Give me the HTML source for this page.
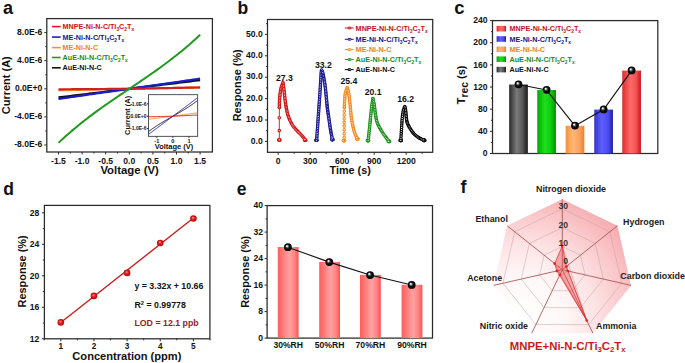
<!DOCTYPE html>
<html><head><meta charset="utf-8"><style>
html,body{margin:0;padding:0;background:#fff;}
svg{display:block;font-family:"Liberation Sans", sans-serif;}
</style></head><body>
<svg width="685" height="363" viewBox="0 0 685 363">
<rect width="685" height="363" fill="#fff"/>
<text x="3.00" y="13.60" font-size="18" text-anchor="start" fill="#111" font-weight="bold" >a</text>
<rect x="46.80" y="18.60" width="165.60" height="133.40" fill="none" stroke="#2a2a2a" stroke-width="1.25"/>
<line x1="44.30" y1="32.60" x2="46.80" y2="32.60" stroke="#2a2a2a" stroke-width="1" />
<line x1="44.30" y1="60.70" x2="46.80" y2="60.70" stroke="#2a2a2a" stroke-width="1" />
<line x1="44.30" y1="88.80" x2="46.80" y2="88.80" stroke="#2a2a2a" stroke-width="1" />
<line x1="44.30" y1="116.90" x2="46.80" y2="116.90" stroke="#2a2a2a" stroke-width="1" />
<line x1="44.30" y1="145.00" x2="46.80" y2="145.00" stroke="#2a2a2a" stroke-width="1" />
<line x1="45.30" y1="46.65" x2="46.80" y2="46.65" stroke="#2a2a2a" stroke-width="1" />
<line x1="45.30" y1="74.75" x2="46.80" y2="74.75" stroke="#2a2a2a" stroke-width="1" />
<line x1="45.30" y1="102.85" x2="46.80" y2="102.85" stroke="#2a2a2a" stroke-width="1" />
<line x1="45.30" y1="130.95" x2="46.80" y2="130.95" stroke="#2a2a2a" stroke-width="1" />
<line x1="58.50" y1="152.00" x2="58.50" y2="154.50" stroke="#2a2a2a" stroke-width="1" />
<line x1="82.10" y1="152.00" x2="82.10" y2="154.50" stroke="#2a2a2a" stroke-width="1" />
<line x1="105.70" y1="152.00" x2="105.70" y2="154.50" stroke="#2a2a2a" stroke-width="1" />
<line x1="129.30" y1="152.00" x2="129.30" y2="154.50" stroke="#2a2a2a" stroke-width="1" />
<line x1="152.90" y1="152.00" x2="152.90" y2="154.50" stroke="#2a2a2a" stroke-width="1" />
<line x1="176.50" y1="152.00" x2="176.50" y2="154.50" stroke="#2a2a2a" stroke-width="1" />
<line x1="200.10" y1="152.00" x2="200.10" y2="154.50" stroke="#2a2a2a" stroke-width="1" />
<line x1="70.30" y1="152.00" x2="70.30" y2="153.50" stroke="#2a2a2a" stroke-width="1" />
<line x1="93.90" y1="152.00" x2="93.90" y2="153.50" stroke="#2a2a2a" stroke-width="1" />
<line x1="117.50" y1="152.00" x2="117.50" y2="153.50" stroke="#2a2a2a" stroke-width="1" />
<line x1="141.10" y1="152.00" x2="141.10" y2="153.50" stroke="#2a2a2a" stroke-width="1" />
<line x1="164.70" y1="152.00" x2="164.70" y2="153.50" stroke="#2a2a2a" stroke-width="1" />
<line x1="188.30" y1="152.00" x2="188.30" y2="153.50" stroke="#2a2a2a" stroke-width="1" />
<text x="42.40" y="34.80" font-size="8.6" text-anchor="end" fill="#111" font-weight="bold" >8.0E-6</text>
<text x="42.40" y="62.90" font-size="8.6" text-anchor="end" fill="#111" font-weight="bold" >4.0E-6</text>
<text x="42.40" y="91.00" font-size="8.6" text-anchor="end" fill="#111" font-weight="bold" >0.0E+0</text>
<text x="42.40" y="119.10" font-size="8.6" text-anchor="end" fill="#111" font-weight="bold" >-4.0E-6</text>
<text x="42.40" y="147.20" font-size="8.6" text-anchor="end" fill="#111" font-weight="bold" >-8.0E-6</text>
<text x="58.50" y="163.50" font-size="8.6" text-anchor="middle" fill="#111" font-weight="bold" >-1.5</text>
<text x="82.10" y="163.50" font-size="8.6" text-anchor="middle" fill="#111" font-weight="bold" >-1.0</text>
<text x="105.70" y="163.50" font-size="8.6" text-anchor="middle" fill="#111" font-weight="bold" >-0.5</text>
<text x="129.30" y="163.50" font-size="8.6" text-anchor="middle" fill="#111" font-weight="bold" >0.0</text>
<text x="152.90" y="163.50" font-size="8.6" text-anchor="middle" fill="#111" font-weight="bold" >0.5</text>
<text x="176.50" y="163.50" font-size="8.6" text-anchor="middle" fill="#111" font-weight="bold" >1.0</text>
<text x="200.10" y="163.50" font-size="8.6" text-anchor="middle" fill="#111" font-weight="bold" >1.5</text>
<text x="129.60" y="174.20" font-size="11.35" text-anchor="middle" fill="#111" font-weight="bold" >Voltage (V)</text>
<text transform="translate(9.70,85.25) rotate(-90)" x="0" y="0" font-size="11" text-anchor="middle" fill="#111" font-weight="bold">Current (A)</text>
<clipPath id="clipA"><rect x="46.8" y="18.6" width="165.60000000000002" height="133.4"/></clipPath>
<path d="M58.50,90.28 L60.86,90.23 L63.22,90.18 L65.58,90.13 L67.94,90.08 L70.30,90.03 L72.66,89.98 L75.02,89.93 L77.38,89.88 L79.74,89.83 L82.10,89.78 L84.46,89.73 L86.82,89.69 L89.18,89.64 L91.54,89.59 L93.90,89.54 L96.26,89.49 L98.62,89.44 L100.98,89.39 L103.34,89.34 L105.70,89.29 L108.06,89.24 L110.42,89.19 L112.78,89.14 L115.14,89.10 L117.50,89.05 L119.86,89.00 L122.22,88.95 L124.58,88.90 L126.94,88.85 L129.30,88.80 L131.66,88.76 L134.02,88.72 L136.38,88.67 L138.74,88.63 L141.10,88.59 L143.46,88.55 L145.82,88.50 L148.18,88.46 L150.54,88.42 L152.90,88.38 L155.26,88.34 L157.62,88.29 L159.98,88.25 L162.34,88.21 L164.70,88.17 L167.06,88.13 L169.42,88.08 L171.78,88.04 L174.14,88.00 L176.50,87.96 L178.86,87.91 L181.22,87.87 L183.58,87.83 L185.94,87.79 L188.30,87.75 L190.66,87.70 L193.02,87.66 L195.38,87.62 L197.74,87.58 L200.10,87.54" stroke="#f7912e" fill="none" stroke-width="2.2" stroke-linejoin="round" />
<path d="M58.50,97.44 L60.86,97.15 L63.22,96.86 L65.58,96.58 L67.94,96.29 L70.30,96.00 L72.66,95.71 L75.02,95.42 L77.38,95.14 L79.74,94.85 L82.10,94.56 L84.46,94.27 L86.82,93.98 L89.18,93.70 L91.54,93.41 L93.90,93.12 L96.26,92.83 L98.62,92.54 L100.98,92.26 L103.34,91.97 L105.70,91.68 L108.06,91.39 L110.42,91.10 L112.78,90.82 L115.14,90.53 L117.50,90.24 L119.86,89.95 L122.22,89.66 L124.58,89.38 L126.94,89.09 L129.30,88.80 L131.66,88.51 L134.02,88.22 L136.38,87.94 L138.74,87.65 L141.10,87.36 L143.46,87.07 L145.82,86.78 L148.18,86.50 L150.54,86.21 L152.90,85.92 L155.26,85.63 L157.62,85.34 L159.98,85.06 L162.34,84.77 L164.70,84.48 L167.06,84.19 L169.42,83.90 L171.78,83.62 L174.14,83.33 L176.50,83.04 L178.86,82.75 L181.22,82.46 L183.58,82.18 L185.94,81.89 L188.30,81.60 L190.66,81.31 L193.02,81.02 L195.38,80.74 L197.74,80.45 L200.10,80.16" stroke="#111" fill="none" stroke-width="2.2" stroke-linejoin="round" />
<path d="M58.50,98.92 L60.86,98.58 L63.22,98.24 L65.58,97.90 L67.94,97.57 L70.30,97.23 L72.66,96.89 L75.02,96.56 L77.38,96.22 L79.74,95.88 L82.10,95.54 L84.46,95.21 L86.82,94.87 L89.18,94.53 L91.54,94.20 L93.90,93.86 L96.26,93.52 L98.62,93.18 L100.98,92.85 L103.34,92.51 L105.70,92.17 L108.06,91.83 L110.42,91.50 L112.78,91.16 L115.14,90.82 L117.50,90.49 L119.86,90.15 L122.22,89.81 L124.58,89.47 L126.94,89.14 L129.30,88.80 L131.66,88.46 L134.02,88.13 L136.38,87.79 L138.74,87.45 L141.10,87.11 L143.46,86.78 L145.82,86.44 L148.18,86.10 L150.54,85.77 L152.90,85.43 L155.26,85.09 L157.62,84.75 L159.98,84.42 L162.34,84.08 L164.70,83.74 L167.06,83.40 L169.42,83.07 L171.78,82.73 L174.14,82.39 L176.50,82.06 L178.86,81.72 L181.22,81.38 L183.58,81.04 L185.94,80.71 L188.30,80.37 L190.66,80.03 L193.02,79.70 L195.38,79.36 L197.74,79.02 L200.10,78.68" stroke="#1c1cc8" fill="none" stroke-width="2.2" stroke-linejoin="round" />
<path d="M58.50,89.33 L60.86,89.31 L63.22,89.29 L65.58,89.27 L67.94,89.26 L70.30,89.24 L72.66,89.22 L75.02,89.20 L77.38,89.19 L79.74,89.17 L82.10,89.15 L84.46,89.13 L86.82,89.12 L89.18,89.10 L91.54,89.08 L93.90,89.06 L96.26,89.05 L98.62,89.03 L100.98,89.01 L103.34,88.99 L105.70,88.98 L108.06,88.96 L110.42,88.94 L112.78,88.92 L115.14,88.91 L117.50,88.89 L119.86,88.87 L122.22,88.85 L124.58,88.84 L126.94,88.82 L129.30,88.80 L131.66,88.75 L134.02,88.71 L136.38,88.66 L138.74,88.62 L141.10,88.57 L143.46,88.53 L145.82,88.48 L148.18,88.43 L150.54,88.39 L152.90,88.34 L155.26,88.30 L157.62,88.25 L159.98,88.21 L162.34,88.16 L164.70,88.12 L167.06,88.07 L169.42,88.02 L171.78,87.98 L174.14,87.93 L176.50,87.89 L178.86,87.84 L181.22,87.80 L183.58,87.75 L185.94,87.70 L188.30,87.66 L190.66,87.61 L193.02,87.57 L195.38,87.52 L197.74,87.48 L200.10,87.43" stroke="#d21f1f" fill="none" stroke-width="2.2" stroke-linejoin="round" />
<path d="M58.50,142.86 L60.86,140.63 L63.22,138.45 L65.58,136.32 L67.94,134.22 L70.30,132.16 L72.66,130.13 L75.02,128.15 L77.38,126.19 L79.74,124.27 L82.10,122.38 L84.46,120.52 L86.82,118.69 L89.18,116.88 L91.54,115.10 L93.90,113.34 L96.26,111.60 L98.62,109.89 L100.98,108.19 L103.34,106.51 L105.70,104.85 L108.06,103.20 L110.42,101.57 L112.78,99.95 L115.14,98.34 L117.50,96.73 L119.86,95.14 L122.22,93.55 L124.58,91.96 L126.94,90.38 L129.30,88.80 L131.66,87.22 L134.02,85.64 L136.38,84.05 L138.74,82.46 L141.10,80.87 L143.46,79.26 L145.82,77.65 L148.18,76.03 L150.54,74.40 L152.90,72.75 L155.26,71.09 L157.62,69.41 L159.98,67.71 L162.34,66.00 L164.70,64.26 L167.06,62.50 L169.42,60.72 L171.78,58.91 L174.14,57.08 L176.50,55.22 L178.86,53.33 L181.22,51.41 L183.58,49.45 L185.94,47.47 L188.30,45.44 L190.66,43.38 L193.02,41.28 L195.38,39.15 L197.74,36.97 L200.10,34.74" stroke="#1f9a1f" fill="none" stroke-width="2" stroke-linejoin="round" />
<line x1="52.00" y1="26.60" x2="60.70" y2="26.60" stroke="#d21f1f" stroke-width="1.6" />
<text x="62.60" y="29.20" font-size="7.2" text-anchor="start" fill="#c8101a" font-weight="bold" >MNPE-Ni-N-C/Ti<tspan dy="2.02" font-size="4.90">3</tspan><tspan dy="-2.02">C</tspan><tspan dy="2.02" font-size="4.90">2</tspan><tspan dy="-2.02">T</tspan><tspan dy="2.02" font-size="4.90">x</tspan></text>
<line x1="52.00" y1="37.10" x2="60.70" y2="37.10" stroke="#1c1cc8" stroke-width="1.6" />
<text x="62.60" y="39.70" font-size="7.2" text-anchor="start" fill="#14148c" font-weight="bold" >ME-Ni-N-C/Ti<tspan dy="2.02" font-size="4.90">3</tspan><tspan dy="-2.02">C</tspan><tspan dy="2.02" font-size="4.90">2</tspan><tspan dy="-2.02">T</tspan><tspan dy="2.02" font-size="4.90">x</tspan></text>
<line x1="52.00" y1="47.60" x2="60.70" y2="47.60" stroke="#f7912e" stroke-width="1.6" />
<text x="62.60" y="50.20" font-size="7.2" text-anchor="start" fill="#f0821e" font-weight="bold" >ME-Ni-N-C</text>
<line x1="52.00" y1="57.50" x2="60.70" y2="57.50" stroke="#1f9a1f" stroke-width="1.6" />
<text x="62.60" y="60.10" font-size="7.2" text-anchor="start" fill="#1a8a26" font-weight="bold" >AuE-Ni-N-C/Ti<tspan dy="2.02" font-size="4.90">3</tspan><tspan dy="-2.02">C</tspan><tspan dy="2.02" font-size="4.90">2</tspan><tspan dy="-2.02">T</tspan><tspan dy="2.02" font-size="4.90">x</tspan></text>
<line x1="52.00" y1="67.80" x2="60.70" y2="67.80" stroke="#111" stroke-width="1.6" />
<text x="62.60" y="70.40" font-size="7.2" text-anchor="start" fill="#111" font-weight="bold" >AuE-Ni-N-C</text>
<rect x="148.5" y="94.7" width="49.20" height="41.60" fill="#fff" stroke="#2a2a2a" stroke-width="0.8"/>
<line x1="147.00" y1="103.80" x2="148.50" y2="103.80" stroke="#2a2a2a" stroke-width="1" />
<line x1="147.00" y1="116.20" x2="148.50" y2="116.20" stroke="#2a2a2a" stroke-width="1" />
<line x1="147.00" y1="128.60" x2="148.50" y2="128.60" stroke="#2a2a2a" stroke-width="1" />
<line x1="156.80" y1="136.30" x2="156.80" y2="137.80" stroke="#2a2a2a" stroke-width="1" />
<line x1="172.90" y1="136.30" x2="172.90" y2="137.80" stroke="#2a2a2a" stroke-width="1" />
<line x1="189.00" y1="136.30" x2="189.00" y2="137.80" stroke="#2a2a2a" stroke-width="1" />
<text x="146.50" y="105.60" font-size="5" text-anchor="end" fill="#111" font-weight="bold" >1.0E-6</text>
<text x="146.50" y="118.00" font-size="5" text-anchor="end" fill="#111" font-weight="bold" >0.0E+0</text>
<text x="146.50" y="130.40" font-size="5" text-anchor="end" fill="#111" font-weight="bold" >-1.0E-6</text>
<text x="156.80" y="142.50" font-size="5.6" text-anchor="middle" fill="#111" font-weight="bold" >-1</text>
<text x="172.90" y="142.50" font-size="5.6" text-anchor="middle" fill="#111" font-weight="bold" >0</text>
<text x="189.00" y="142.50" font-size="5.6" text-anchor="middle" fill="#111" font-weight="bold" >1</text>
<text x="174.00" y="149.00" font-size="7.5" text-anchor="middle" fill="#111" font-weight="bold" >Voltage (V)</text>
<text transform="translate(130.30,115.40) rotate(-90)" x="0" y="0" font-size="7.4" text-anchor="middle" fill="#111" font-weight="bold">Current (A)</text>
<clipPath id="clipI"><rect x="148.5" y="94.7" width="49.19999999999999" height="41.60000000000001"/></clipPath>
<path d="M148.27,119.24 L149.09,119.13 L149.91,119.03 L150.73,118.93 L151.55,118.83 L152.37,118.73 L153.19,118.63 L154.01,118.53 L154.84,118.43 L155.66,118.32 L156.48,118.22 L157.30,118.12 L158.12,118.02 L158.94,117.92 L159.76,117.82 L160.58,117.72 L161.40,117.62 L162.23,117.52 L163.05,117.41 L163.87,117.31 L164.69,117.21 L165.51,117.11 L166.33,117.01 L167.15,116.91 L167.97,116.81 L168.79,116.71 L169.62,116.60 L170.44,116.50 L171.26,116.40 L172.08,116.30 L172.90,116.20 L173.72,116.09 L174.54,115.97 L175.36,115.86 L176.18,115.74 L177.01,115.63 L177.83,115.52 L178.65,115.40 L179.47,115.29 L180.29,115.18 L181.11,115.06 L181.93,114.95 L182.75,114.83 L183.57,114.72 L184.40,114.61 L185.22,114.49 L186.04,114.38 L186.86,114.26 L187.68,114.15 L188.50,114.04 L189.32,113.92 L190.14,113.81 L190.96,113.70 L191.79,113.58 L192.61,113.47 L193.43,113.35 L194.25,113.24 L195.07,113.13 L195.89,113.01 L196.71,112.90 L197.53,112.79" stroke="#f7912e" fill="none" stroke-width="1" stroke-linejoin="round" clip-path="url(#clipI)"/>
<path d="M148.27,131.82 L149.09,131.20 L149.91,130.58 L150.73,129.98 L151.55,129.38 L152.37,128.80 L153.19,128.23 L154.01,127.66 L154.84,127.10 L155.66,126.55 L156.48,126.01 L157.30,125.47 L158.12,124.94 L158.94,124.42 L159.76,123.91 L160.58,123.40 L161.40,122.89 L162.23,122.39 L163.05,121.90 L163.87,121.41 L164.69,120.92 L165.51,120.44 L166.33,119.96 L167.15,119.48 L167.97,119.01 L168.79,118.54 L169.62,118.07 L170.44,117.60 L171.26,117.13 L172.08,116.67 L172.90,116.20 L173.72,115.73 L174.54,115.27 L175.36,114.80 L176.18,114.33 L177.01,113.86 L177.83,113.39 L178.65,112.92 L179.47,112.44 L180.29,111.96 L181.11,111.48 L181.93,110.99 L182.75,110.50 L183.57,110.01 L184.40,109.51 L185.22,109.00 L186.04,108.49 L186.86,107.98 L187.68,107.46 L188.50,106.93 L189.32,106.39 L190.14,105.85 L190.96,105.30 L191.79,104.74 L192.61,104.17 L193.43,103.60 L194.25,103.02 L195.07,102.42 L195.89,101.82 L196.71,101.20 L197.53,100.58" stroke="#111" fill="none" stroke-width="0.9" stroke-linejoin="round" clip-path="url(#clipI)"/>
<path d="M148.27,134.60 L149.09,133.99 L149.91,133.38 L150.73,132.76 L151.55,132.15 L152.37,131.54 L153.19,130.92 L154.01,130.31 L154.84,129.70 L155.66,129.08 L156.48,128.47 L157.30,127.86 L158.12,127.24 L158.94,126.63 L159.76,126.01 L160.58,125.40 L161.40,124.79 L162.23,124.17 L163.05,123.56 L163.87,122.95 L164.69,122.33 L165.51,121.72 L166.33,121.11 L167.15,120.49 L167.97,119.88 L168.79,119.27 L169.62,118.65 L170.44,118.04 L171.26,117.43 L172.08,116.81 L172.90,116.20 L173.72,115.59 L174.54,114.97 L175.36,114.36 L176.18,113.75 L177.01,113.13 L177.83,112.52 L178.65,111.91 L179.47,111.29 L180.29,110.68 L181.11,110.07 L181.93,109.45 L182.75,108.84 L183.57,108.23 L184.40,107.61 L185.22,107.00 L186.04,106.39 L186.86,105.77 L187.68,105.16 L188.50,104.54 L189.32,103.93 L190.14,103.32 L190.96,102.70 L191.79,102.09 L192.61,101.48 L193.43,100.86 L194.25,100.25 L195.07,99.64 L195.89,99.02 L196.71,98.41 L197.53,97.80" stroke="#1c1cc8" fill="none" stroke-width="0.9" stroke-linejoin="round" clip-path="url(#clipI)"/>
<path d="M148.27,116.77 L149.09,116.75 L149.91,116.73 L150.73,116.71 L151.55,116.69 L152.37,116.67 L153.19,116.66 L154.01,116.64 L154.84,116.62 L155.66,116.60 L156.48,116.58 L157.30,116.56 L158.12,116.54 L158.94,116.52 L159.76,116.50 L160.58,116.48 L161.40,116.47 L162.23,116.45 L163.05,116.43 L163.87,116.41 L164.69,116.39 L165.51,116.37 L166.33,116.35 L167.15,116.33 L167.97,116.31 L168.79,116.29 L169.62,116.28 L170.44,116.26 L171.26,116.24 L172.08,116.22 L172.90,116.20 L173.72,116.16 L174.54,116.12 L175.36,116.09 L176.18,116.05 L177.01,116.01 L177.83,115.97 L178.65,115.93 L179.47,115.90 L180.29,115.86 L181.11,115.82 L181.93,115.78 L182.75,115.74 L183.57,115.71 L184.40,115.67 L185.22,115.63 L186.04,115.59 L186.86,115.55 L187.68,115.52 L188.50,115.48 L189.32,115.44 L190.14,115.40 L190.96,115.37 L191.79,115.33 L192.61,115.29 L193.43,115.25 L194.25,115.21 L195.07,115.18 L195.89,115.14 L196.71,115.10 L197.53,115.06" stroke="#d21f1f" fill="none" stroke-width="1" stroke-linejoin="round" clip-path="url(#clipI)"/>
<linearGradient id="gK" x1="0" y1="0" x2="1" y2="0"><stop offset="0" stop-color="#2a2a2a"/><stop offset="0.4" stop-color="#7a7a7a"/><stop offset="0.7" stop-color="#5a5a5a"/><stop offset="1" stop-color="#1a1a1a"/></linearGradient>
<linearGradient id="gG" x1="0" y1="0" x2="1" y2="0"><stop offset="0" stop-color="#00a800"/><stop offset="0.4" stop-color="#1ee01e"/><stop offset="0.75" stop-color="#10c810"/><stop offset="1" stop-color="#008a00"/></linearGradient>
<linearGradient id="gO" x1="0" y1="0" x2="1" y2="0"><stop offset="0" stop-color="#f59038"/><stop offset="0.4" stop-color="#ffb878"/><stop offset="0.75" stop-color="#fca060"/><stop offset="1" stop-color="#f08020"/></linearGradient>
<linearGradient id="gB" x1="0" y1="0" x2="1" y2="0"><stop offset="0" stop-color="#3434c8"/><stop offset="0.4" stop-color="#5e5eff"/><stop offset="0.75" stop-color="#4a4af0"/><stop offset="1" stop-color="#1e1e98"/></linearGradient>
<linearGradient id="gR" x1="0" y1="0" x2="1" y2="0"><stop offset="0" stop-color="#dc2e2e"/><stop offset="0.45" stop-color="#ff6a6a"/><stop offset="0.75" stop-color="#f25252"/><stop offset="1" stop-color="#c81414"/></linearGradient>
<linearGradient id="gE" x1="0" y1="0" x2="1" y2="0"><stop offset="0" stop-color="#ff5c5c"/><stop offset="0.55" stop-color="#ffa2a2"/><stop offset="0.8" stop-color="#ff8484"/><stop offset="1" stop-color="#ff5252"/></linearGradient>
<radialGradient id="ball" cx="0.5" cy="0.5" r="0.5" fx="0.36" fy="0.33"><stop offset="0" stop-color="#ffffff"/><stop offset="0.14" stop-color="#e6e6e6"/><stop offset="0.32" stop-color="#6a6a6a"/><stop offset="0.55" stop-color="#111"/><stop offset="1" stop-color="#000"/></radialGradient>
<text x="237.60" y="14.00" font-size="17.5" text-anchor="start" fill="#111" font-weight="bold" >b</text>
<rect x="267.50" y="19.50" width="165.20" height="132.80" fill="none" stroke="#2a2a2a" stroke-width="1.25"/>
<line x1="265.00" y1="141.40" x2="267.50" y2="141.40" stroke="#2a2a2a" stroke-width="1" />
<line x1="265.00" y1="120.00" x2="267.50" y2="120.00" stroke="#2a2a2a" stroke-width="1" />
<line x1="265.00" y1="98.60" x2="267.50" y2="98.60" stroke="#2a2a2a" stroke-width="1" />
<line x1="265.00" y1="77.20" x2="267.50" y2="77.20" stroke="#2a2a2a" stroke-width="1" />
<line x1="265.00" y1="55.80" x2="267.50" y2="55.80" stroke="#2a2a2a" stroke-width="1" />
<line x1="265.00" y1="34.40" x2="267.50" y2="34.40" stroke="#2a2a2a" stroke-width="1" />
<line x1="266.00" y1="130.70" x2="267.50" y2="130.70" stroke="#2a2a2a" stroke-width="1" />
<line x1="266.00" y1="109.30" x2="267.50" y2="109.30" stroke="#2a2a2a" stroke-width="1" />
<line x1="266.00" y1="87.90" x2="267.50" y2="87.90" stroke="#2a2a2a" stroke-width="1" />
<line x1="266.00" y1="66.50" x2="267.50" y2="66.50" stroke="#2a2a2a" stroke-width="1" />
<line x1="266.00" y1="45.10" x2="267.50" y2="45.10" stroke="#2a2a2a" stroke-width="1" />
<line x1="266.00" y1="23.70" x2="267.50" y2="23.70" stroke="#2a2a2a" stroke-width="1" />
<line x1="278.20" y1="152.30" x2="278.20" y2="154.80" stroke="#2a2a2a" stroke-width="1" />
<line x1="310.20" y1="152.30" x2="310.20" y2="154.80" stroke="#2a2a2a" stroke-width="1" />
<line x1="342.20" y1="152.30" x2="342.20" y2="154.80" stroke="#2a2a2a" stroke-width="1" />
<line x1="374.20" y1="152.30" x2="374.20" y2="154.80" stroke="#2a2a2a" stroke-width="1" />
<line x1="406.20" y1="152.30" x2="406.20" y2="154.80" stroke="#2a2a2a" stroke-width="1" />
<line x1="294.20" y1="152.30" x2="294.20" y2="153.80" stroke="#2a2a2a" stroke-width="1" />
<line x1="326.20" y1="152.30" x2="326.20" y2="153.80" stroke="#2a2a2a" stroke-width="1" />
<line x1="358.20" y1="152.30" x2="358.20" y2="153.80" stroke="#2a2a2a" stroke-width="1" />
<line x1="390.20" y1="152.30" x2="390.20" y2="153.80" stroke="#2a2a2a" stroke-width="1" />
<line x1="422.20" y1="152.30" x2="422.20" y2="153.80" stroke="#2a2a2a" stroke-width="1" />
<text x="262.80" y="143.60" font-size="8.6" text-anchor="end" fill="#111" font-weight="bold" >0.0</text>
<text x="262.80" y="122.20" font-size="8.6" text-anchor="end" fill="#111" font-weight="bold" >10.0</text>
<text x="262.80" y="100.80" font-size="8.6" text-anchor="end" fill="#111" font-weight="bold" >20.0</text>
<text x="262.80" y="79.40" font-size="8.6" text-anchor="end" fill="#111" font-weight="bold" >30.0</text>
<text x="262.80" y="58.00" font-size="8.6" text-anchor="end" fill="#111" font-weight="bold" >40.0</text>
<text x="262.80" y="36.60" font-size="8.6" text-anchor="end" fill="#111" font-weight="bold" >50.0</text>
<text x="278.20" y="163.80" font-size="8.6" text-anchor="middle" fill="#111" font-weight="bold" >0</text>
<text x="310.20" y="163.80" font-size="8.6" text-anchor="middle" fill="#111" font-weight="bold" >300</text>
<text x="342.20" y="163.80" font-size="8.6" text-anchor="middle" fill="#111" font-weight="bold" >600</text>
<text x="374.20" y="163.80" font-size="8.6" text-anchor="middle" fill="#111" font-weight="bold" >900</text>
<text x="406.20" y="163.80" font-size="8.6" text-anchor="middle" fill="#111" font-weight="bold" >1200</text>
<text x="350.20" y="174.40" font-size="10.8" text-anchor="middle" fill="#111" font-weight="bold" >Time (s)</text>
<text transform="translate(241.30,85.30) rotate(-90)" x="0" y="0" font-size="10.9" text-anchor="middle" fill="#111" font-weight="bold">Response (%)</text>
<path d="M279.30,139.80 L279.30,130.60 L279.30,117.70 L279.40,107.50 L279.40,107.50 L279.40,106.96 L279.41,106.23 L279.41,105.37 L279.41,104.41 L279.42,103.40 L279.44,102.38 L279.46,101.40 L279.50,100.50 L279.55,99.66 L279.60,98.84 L279.67,98.03 L279.74,97.22 L279.82,96.42 L279.90,95.61 L280.00,94.81 L280.10,94.00 L280.21,93.18 L280.32,92.34 L280.45,91.49 L280.57,90.65 L280.71,89.82 L280.86,89.01 L281.03,88.24 L281.20,87.50 L281.40,86.78 L281.64,86.05 L281.90,85.33 L282.17,84.64 L282.43,84.01 L282.66,83.44 L282.86,82.97 L283.00,82.60 L283.00,82.60 L283.07,83.13 L283.17,83.80 L283.28,84.59 L283.41,85.49 L283.54,86.49 L283.69,87.58 L283.84,88.76 L284.00,90.00 L284.16,91.38 L284.33,92.93 L284.51,94.61 L284.70,96.35 L284.89,98.11 L285.09,99.84 L285.29,101.49 L285.50,103.00 L285.71,104.40 L285.92,105.75 L286.13,107.05 L286.35,108.29 L286.58,109.49 L286.81,110.64 L287.05,111.75 L287.30,112.80 L287.56,113.79 L287.83,114.72 L288.10,115.59 L288.39,116.42 L288.68,117.21 L288.98,117.98 L289.29,118.74 L289.60,119.50 L289.92,120.26 L290.26,120.99 L290.60,121.72 L290.95,122.42 L291.31,123.10 L291.67,123.76 L292.03,124.39 L292.40,125.00 L292.77,125.58 L293.16,126.12 L293.54,126.65 L293.94,127.14 L294.33,127.62 L294.72,128.09 L295.12,128.55 L295.50,129.00 L295.88,129.44 L296.25,129.85 L296.62,130.25 L296.99,130.64 L297.36,131.03 L297.73,131.41 L298.11,131.80 L298.50,132.20 L298.90,132.60 L299.31,133.01 L299.73,133.41 L300.16,133.81 L300.58,134.22 L301.00,134.64 L301.40,135.06 L301.80,135.50 L302.20,135.97 L302.60,136.48 L303.01,137.02 L303.41,137.55 L303.79,138.07 L304.14,138.54 L304.45,138.96 L304.70,139.30 L304.90,139.56 L305.05,139.75 L305.15,139.89 L305.23,139.99 L305.29,140.06 L305.33,140.11 L305.36,140.15 L305.40,140.20" stroke="#d01414" fill="none" stroke-width="0.9" stroke-linejoin="round" />
<circle cx="305.80" cy="140.20" r="1.25" fill="#fff" stroke="#d01414" stroke-width="1.1"/>
<circle cx="305.50" cy="140.20" r="1.25" fill="#fff" stroke="#d01414" stroke-width="1.1"/>
<circle cx="305.20" cy="140.20" r="1.25" fill="#fff" stroke="#d01414" stroke-width="1.1"/>
<circle cx="304.90" cy="140.20" r="1.25" fill="#fff" stroke="#d01414" stroke-width="1.1"/>
<circle cx="304.60" cy="140.20" r="1.25" fill="#fff" stroke="#d01414" stroke-width="1.1"/>
<circle cx="279.90" cy="140.00" r="1.25" fill="#fff" stroke="#d01414" stroke-width="1.1"/>
<circle cx="279.60" cy="140.00" r="1.25" fill="#fff" stroke="#d01414" stroke-width="1.1"/>
<circle cx="279.30" cy="140.00" r="1.25" fill="#fff" stroke="#d01414" stroke-width="1.1"/>
<circle cx="279.00" cy="140.00" r="1.25" fill="#fff" stroke="#d01414" stroke-width="1.1"/>
<circle cx="278.70" cy="140.00" r="1.25" fill="#fff" stroke="#d01414" stroke-width="1.1"/>
<circle cx="279.30" cy="139.80" r="1.25" fill="#fff" stroke="#d01414" stroke-width="1.1"/>
<circle cx="279.30" cy="130.60" r="1.25" fill="#fff" stroke="#d01414" stroke-width="1.1"/>
<circle cx="279.30" cy="117.70" r="1.25" fill="#fff" stroke="#d01414" stroke-width="1.1"/>
<circle cx="279.40" cy="107.50" r="1.25" fill="#fff" stroke="#d01414" stroke-width="1.1"/>
<circle cx="279.40" cy="107.50" r="1.25" fill="#fff" stroke="#d01414" stroke-width="1.1"/>
<circle cx="279.41" cy="106.00" r="1.25" fill="#fff" stroke="#d01414" stroke-width="1.1"/>
<circle cx="279.41" cy="104.50" r="1.25" fill="#fff" stroke="#d01414" stroke-width="1.1"/>
<circle cx="279.43" cy="103.00" r="1.25" fill="#fff" stroke="#d01414" stroke-width="1.1"/>
<circle cx="279.46" cy="101.50" r="1.25" fill="#fff" stroke="#d01414" stroke-width="1.1"/>
<circle cx="279.53" cy="100.00" r="1.25" fill="#fff" stroke="#d01414" stroke-width="1.1"/>
<circle cx="279.63" cy="98.51" r="1.25" fill="#fff" stroke="#d01414" stroke-width="1.1"/>
<circle cx="279.76" cy="97.01" r="1.25" fill="#fff" stroke="#d01414" stroke-width="1.1"/>
<circle cx="279.91" cy="95.52" r="1.25" fill="#fff" stroke="#d01414" stroke-width="1.1"/>
<circle cx="280.10" cy="94.03" r="1.25" fill="#fff" stroke="#d01414" stroke-width="1.1"/>
<circle cx="280.30" cy="92.54" r="1.25" fill="#fff" stroke="#d01414" stroke-width="1.1"/>
<circle cx="280.51" cy="91.06" r="1.25" fill="#fff" stroke="#d01414" stroke-width="1.1"/>
<circle cx="280.76" cy="89.58" r="1.25" fill="#fff" stroke="#d01414" stroke-width="1.1"/>
<circle cx="281.06" cy="88.11" r="1.25" fill="#fff" stroke="#d01414" stroke-width="1.1"/>
<circle cx="281.44" cy="86.66" r="1.25" fill="#fff" stroke="#d01414" stroke-width="1.1"/>
<circle cx="281.94" cy="85.24" r="1.25" fill="#fff" stroke="#d01414" stroke-width="1.1"/>
<circle cx="282.49" cy="83.85" r="1.25" fill="#fff" stroke="#d01414" stroke-width="1.1"/>
<circle cx="283.00" cy="82.60" r="1.25" fill="#fff" stroke="#d01414" stroke-width="1.1"/>
<circle cx="283.21" cy="84.09" r="1.25" fill="#fff" stroke="#d01414" stroke-width="1.1"/>
<circle cx="283.42" cy="85.57" r="1.25" fill="#fff" stroke="#d01414" stroke-width="1.1"/>
<circle cx="283.62" cy="87.06" r="1.25" fill="#fff" stroke="#d01414" stroke-width="1.1"/>
<circle cx="283.82" cy="88.54" r="1.25" fill="#fff" stroke="#d01414" stroke-width="1.1"/>
<circle cx="284.00" cy="90.03" r="1.25" fill="#fff" stroke="#d01414" stroke-width="1.1"/>
<circle cx="284.18" cy="91.52" r="1.25" fill="#fff" stroke="#d01414" stroke-width="1.1"/>
<circle cx="284.34" cy="93.01" r="1.25" fill="#fff" stroke="#d01414" stroke-width="1.1"/>
<circle cx="284.50" cy="94.50" r="1.25" fill="#fff" stroke="#d01414" stroke-width="1.1"/>
<circle cx="284.66" cy="96.00" r="1.25" fill="#fff" stroke="#d01414" stroke-width="1.1"/>
<circle cx="284.82" cy="97.49" r="1.25" fill="#fff" stroke="#d01414" stroke-width="1.1"/>
<circle cx="284.99" cy="98.98" r="1.25" fill="#fff" stroke="#d01414" stroke-width="1.1"/>
<circle cx="285.17" cy="100.47" r="1.25" fill="#fff" stroke="#d01414" stroke-width="1.1"/>
<circle cx="285.36" cy="101.96" r="1.25" fill="#fff" stroke="#d01414" stroke-width="1.1"/>
<circle cx="285.57" cy="103.44" r="1.25" fill="#fff" stroke="#d01414" stroke-width="1.1"/>
<circle cx="285.79" cy="104.92" r="1.25" fill="#fff" stroke="#d01414" stroke-width="1.1"/>
<circle cx="286.03" cy="106.41" r="1.25" fill="#fff" stroke="#d01414" stroke-width="1.1"/>
<circle cx="286.28" cy="107.88" r="1.25" fill="#fff" stroke="#d01414" stroke-width="1.1"/>
<circle cx="286.55" cy="109.36" r="1.25" fill="#fff" stroke="#d01414" stroke-width="1.1"/>
<circle cx="286.85" cy="110.83" r="1.25" fill="#fff" stroke="#d01414" stroke-width="1.1"/>
<circle cx="287.18" cy="112.29" r="1.25" fill="#fff" stroke="#d01414" stroke-width="1.1"/>
<circle cx="287.55" cy="113.75" r="1.25" fill="#fff" stroke="#d01414" stroke-width="1.1"/>
<circle cx="287.97" cy="115.18" r="1.25" fill="#fff" stroke="#d01414" stroke-width="1.1"/>
<circle cx="288.46" cy="116.60" r="1.25" fill="#fff" stroke="#d01414" stroke-width="1.1"/>
<circle cx="288.99" cy="118.01" r="1.25" fill="#fff" stroke="#d01414" stroke-width="1.1"/>
<circle cx="289.56" cy="119.39" r="1.25" fill="#fff" stroke="#d01414" stroke-width="1.1"/>
<circle cx="290.16" cy="120.77" r="1.25" fill="#fff" stroke="#d01414" stroke-width="1.1"/>
<circle cx="290.80" cy="122.12" r="1.25" fill="#fff" stroke="#d01414" stroke-width="1.1"/>
<circle cx="291.50" cy="123.45" r="1.25" fill="#fff" stroke="#d01414" stroke-width="1.1"/>
<circle cx="292.25" cy="124.75" r="1.25" fill="#fff" stroke="#d01414" stroke-width="1.1"/>
<circle cx="293.07" cy="126.00" r="1.25" fill="#fff" stroke="#d01414" stroke-width="1.1"/>
<circle cx="293.98" cy="127.20" r="1.25" fill="#fff" stroke="#d01414" stroke-width="1.1"/>
<circle cx="294.94" cy="128.35" r="1.25" fill="#fff" stroke="#d01414" stroke-width="1.1"/>
<circle cx="295.92" cy="129.49" r="1.25" fill="#fff" stroke="#d01414" stroke-width="1.1"/>
<circle cx="296.94" cy="130.59" r="1.25" fill="#fff" stroke="#d01414" stroke-width="1.1"/>
<circle cx="297.98" cy="131.67" r="1.25" fill="#fff" stroke="#d01414" stroke-width="1.1"/>
<circle cx="299.03" cy="132.73" r="1.25" fill="#fff" stroke="#d01414" stroke-width="1.1"/>
<circle cx="300.12" cy="133.77" r="1.25" fill="#fff" stroke="#d01414" stroke-width="1.1"/>
<circle cx="301.18" cy="134.83" r="1.25" fill="#fff" stroke="#d01414" stroke-width="1.1"/>
<circle cx="302.18" cy="135.95" r="1.25" fill="#fff" stroke="#d01414" stroke-width="1.1"/>
<circle cx="303.10" cy="137.13" r="1.25" fill="#fff" stroke="#d01414" stroke-width="1.1"/>
<circle cx="303.99" cy="138.34" r="1.25" fill="#fff" stroke="#d01414" stroke-width="1.1"/>
<circle cx="304.89" cy="139.54" r="1.25" fill="#fff" stroke="#d01414" stroke-width="1.1"/>
<path d="M316.60,140.00 L316.65,139.37 L316.71,138.62 L316.78,137.72 L316.87,136.69 L316.96,135.50 L317.07,134.16 L317.18,132.67 L317.30,131.00 L317.43,129.11 L317.58,126.98 L317.74,124.65 L317.91,122.19 L318.08,119.64 L318.25,117.05 L318.43,114.49 L318.60,112.00 L318.77,109.53 L318.95,107.02 L319.13,104.49 L319.31,101.94 L319.49,99.40 L319.67,96.88 L319.84,94.41 L320.00,92.00 L320.16,89.56 L320.31,87.03 L320.46,84.49 L320.61,82.00 L320.74,79.64 L320.87,77.47 L320.99,75.57 L321.10,74.00 L321.19,72.80 L321.28,71.92 L321.35,71.30 L321.42,70.88 L321.48,70.59 L321.52,70.39 L321.57,70.21 L321.60,70.00 L321.60,70.00 L321.68,70.13 L321.77,70.27 L321.89,70.43 L322.03,70.62 L322.17,70.87 L322.31,71.17 L322.46,71.54 L322.60,72.00 L322.74,72.55 L322.89,73.19 L323.04,73.91 L323.19,74.68 L323.34,75.49 L323.50,76.33 L323.65,77.17 L323.80,78.00 L323.95,78.81 L324.10,79.61 L324.25,80.41 L324.40,81.24 L324.55,82.11 L324.70,83.03 L324.85,84.02 L325.00,85.10 L325.15,86.27 L325.30,87.52 L325.45,88.85 L325.60,90.22 L325.75,91.64 L325.90,93.09 L326.05,94.54 L326.20,96.00 L326.35,97.47 L326.49,98.99 L326.63,100.54 L326.77,102.10 L326.91,103.67 L327.06,105.23 L327.23,106.78 L327.40,108.30 L327.59,109.79 L327.79,111.27 L328.00,112.74 L328.22,114.21 L328.44,115.66 L328.66,117.11 L328.88,118.56 L329.10,120.00 L329.31,121.46 L329.53,122.95 L329.74,124.45 L329.96,125.93 L330.17,127.39 L330.38,128.80 L330.59,130.14 L330.80,131.40 L331.02,132.62 L331.24,133.83 L331.48,135.00 L331.71,136.11 L331.92,137.14 L332.11,138.04 L332.28,138.81 L332.40,139.40" stroke="#161690" fill="none" stroke-width="0.9" stroke-linejoin="round" />
<circle cx="333.00" cy="139.60" r="1.25" fill="#fff" stroke="#161690" stroke-width="1.1"/>
<circle cx="332.70" cy="139.60" r="1.25" fill="#fff" stroke="#161690" stroke-width="1.1"/>
<circle cx="332.40" cy="139.60" r="1.25" fill="#fff" stroke="#161690" stroke-width="1.1"/>
<circle cx="332.10" cy="139.60" r="1.25" fill="#fff" stroke="#161690" stroke-width="1.1"/>
<circle cx="331.80" cy="139.60" r="1.25" fill="#fff" stroke="#161690" stroke-width="1.1"/>
<circle cx="317.00" cy="140.30" r="1.25" fill="#fff" stroke="#161690" stroke-width="1.1"/>
<circle cx="316.70" cy="140.30" r="1.25" fill="#fff" stroke="#161690" stroke-width="1.1"/>
<circle cx="316.40" cy="140.30" r="1.25" fill="#fff" stroke="#161690" stroke-width="1.1"/>
<circle cx="316.10" cy="140.30" r="1.25" fill="#fff" stroke="#161690" stroke-width="1.1"/>
<circle cx="315.80" cy="140.30" r="1.25" fill="#fff" stroke="#161690" stroke-width="1.1"/>
<circle cx="316.60" cy="140.00" r="1.25" fill="#fff" stroke="#161690" stroke-width="1.1"/>
<circle cx="316.74" cy="138.31" r="1.25" fill="#fff" stroke="#161690" stroke-width="1.1"/>
<circle cx="316.87" cy="136.61" r="1.25" fill="#fff" stroke="#161690" stroke-width="1.1"/>
<circle cx="317.01" cy="134.92" r="1.25" fill="#fff" stroke="#161690" stroke-width="1.1"/>
<circle cx="317.14" cy="133.22" r="1.25" fill="#fff" stroke="#161690" stroke-width="1.1"/>
<circle cx="317.26" cy="131.53" r="1.25" fill="#fff" stroke="#161690" stroke-width="1.1"/>
<circle cx="317.38" cy="129.83" r="1.25" fill="#fff" stroke="#161690" stroke-width="1.1"/>
<circle cx="317.50" cy="128.13" r="1.25" fill="#fff" stroke="#161690" stroke-width="1.1"/>
<circle cx="317.62" cy="126.44" r="1.25" fill="#fff" stroke="#161690" stroke-width="1.1"/>
<circle cx="317.73" cy="124.74" r="1.25" fill="#fff" stroke="#161690" stroke-width="1.1"/>
<circle cx="317.85" cy="123.05" r="1.25" fill="#fff" stroke="#161690" stroke-width="1.1"/>
<circle cx="317.96" cy="121.35" r="1.25" fill="#fff" stroke="#161690" stroke-width="1.1"/>
<circle cx="318.08" cy="119.65" r="1.25" fill="#fff" stroke="#161690" stroke-width="1.1"/>
<circle cx="318.19" cy="117.96" r="1.25" fill="#fff" stroke="#161690" stroke-width="1.1"/>
<circle cx="318.31" cy="116.26" r="1.25" fill="#fff" stroke="#161690" stroke-width="1.1"/>
<circle cx="318.42" cy="114.57" r="1.25" fill="#fff" stroke="#161690" stroke-width="1.1"/>
<circle cx="318.54" cy="112.87" r="1.25" fill="#fff" stroke="#161690" stroke-width="1.1"/>
<circle cx="318.66" cy="111.17" r="1.25" fill="#fff" stroke="#161690" stroke-width="1.1"/>
<circle cx="318.78" cy="109.48" r="1.25" fill="#fff" stroke="#161690" stroke-width="1.1"/>
<circle cx="318.90" cy="107.78" r="1.25" fill="#fff" stroke="#161690" stroke-width="1.1"/>
<circle cx="319.02" cy="106.09" r="1.25" fill="#fff" stroke="#161690" stroke-width="1.1"/>
<circle cx="319.14" cy="104.39" r="1.25" fill="#fff" stroke="#161690" stroke-width="1.1"/>
<circle cx="319.26" cy="102.69" r="1.25" fill="#fff" stroke="#161690" stroke-width="1.1"/>
<circle cx="319.38" cy="101.00" r="1.25" fill="#fff" stroke="#161690" stroke-width="1.1"/>
<circle cx="319.50" cy="99.30" r="1.25" fill="#fff" stroke="#161690" stroke-width="1.1"/>
<circle cx="319.62" cy="97.61" r="1.25" fill="#fff" stroke="#161690" stroke-width="1.1"/>
<circle cx="319.74" cy="95.91" r="1.25" fill="#fff" stroke="#161690" stroke-width="1.1"/>
<circle cx="319.85" cy="94.22" r="1.25" fill="#fff" stroke="#161690" stroke-width="1.1"/>
<circle cx="319.97" cy="92.52" r="1.25" fill="#fff" stroke="#161690" stroke-width="1.1"/>
<circle cx="320.08" cy="90.82" r="1.25" fill="#fff" stroke="#161690" stroke-width="1.1"/>
<circle cx="320.18" cy="89.13" r="1.25" fill="#fff" stroke="#161690" stroke-width="1.1"/>
<circle cx="320.29" cy="87.43" r="1.25" fill="#fff" stroke="#161690" stroke-width="1.1"/>
<circle cx="320.39" cy="85.73" r="1.25" fill="#fff" stroke="#161690" stroke-width="1.1"/>
<circle cx="320.49" cy="84.04" r="1.25" fill="#fff" stroke="#161690" stroke-width="1.1"/>
<circle cx="320.59" cy="82.34" r="1.25" fill="#fff" stroke="#161690" stroke-width="1.1"/>
<circle cx="320.69" cy="80.64" r="1.25" fill="#fff" stroke="#161690" stroke-width="1.1"/>
<circle cx="320.79" cy="78.94" r="1.25" fill="#fff" stroke="#161690" stroke-width="1.1"/>
<circle cx="320.89" cy="77.25" r="1.25" fill="#fff" stroke="#161690" stroke-width="1.1"/>
<circle cx="320.99" cy="75.55" r="1.25" fill="#fff" stroke="#161690" stroke-width="1.1"/>
<circle cx="321.11" cy="73.85" r="1.25" fill="#fff" stroke="#161690" stroke-width="1.1"/>
<circle cx="321.26" cy="72.16" r="1.25" fill="#fff" stroke="#161690" stroke-width="1.1"/>
<circle cx="321.50" cy="70.48" r="1.25" fill="#fff" stroke="#161690" stroke-width="1.1"/>
<circle cx="321.60" cy="70.00" r="1.25" fill="#fff" stroke="#161690" stroke-width="1.1"/>
<circle cx="322.36" cy="71.29" r="1.25" fill="#fff" stroke="#161690" stroke-width="1.1"/>
<circle cx="322.78" cy="72.73" r="1.25" fill="#fff" stroke="#161690" stroke-width="1.1"/>
<circle cx="323.09" cy="74.19" r="1.25" fill="#fff" stroke="#161690" stroke-width="1.1"/>
<circle cx="323.37" cy="75.67" r="1.25" fill="#fff" stroke="#161690" stroke-width="1.1"/>
<circle cx="323.64" cy="77.14" r="1.25" fill="#fff" stroke="#161690" stroke-width="1.1"/>
<circle cx="323.91" cy="78.62" r="1.25" fill="#fff" stroke="#161690" stroke-width="1.1"/>
<circle cx="324.19" cy="80.09" r="1.25" fill="#fff" stroke="#161690" stroke-width="1.1"/>
<circle cx="324.46" cy="81.57" r="1.25" fill="#fff" stroke="#161690" stroke-width="1.1"/>
<circle cx="324.70" cy="83.05" r="1.25" fill="#fff" stroke="#161690" stroke-width="1.1"/>
<circle cx="324.92" cy="84.53" r="1.25" fill="#fff" stroke="#161690" stroke-width="1.1"/>
<circle cx="325.12" cy="86.02" r="1.25" fill="#fff" stroke="#161690" stroke-width="1.1"/>
<circle cx="325.30" cy="87.51" r="1.25" fill="#fff" stroke="#161690" stroke-width="1.1"/>
<circle cx="325.47" cy="89.00" r="1.25" fill="#fff" stroke="#161690" stroke-width="1.1"/>
<circle cx="325.63" cy="90.49" r="1.25" fill="#fff" stroke="#161690" stroke-width="1.1"/>
<circle cx="325.79" cy="91.98" r="1.25" fill="#fff" stroke="#161690" stroke-width="1.1"/>
<circle cx="325.94" cy="93.47" r="1.25" fill="#fff" stroke="#161690" stroke-width="1.1"/>
<circle cx="326.09" cy="94.97" r="1.25" fill="#fff" stroke="#161690" stroke-width="1.1"/>
<circle cx="326.25" cy="96.46" r="1.25" fill="#fff" stroke="#161690" stroke-width="1.1"/>
<circle cx="326.39" cy="97.95" r="1.25" fill="#fff" stroke="#161690" stroke-width="1.1"/>
<circle cx="326.53" cy="99.44" r="1.25" fill="#fff" stroke="#161690" stroke-width="1.1"/>
<circle cx="326.66" cy="100.94" r="1.25" fill="#fff" stroke="#161690" stroke-width="1.1"/>
<circle cx="326.80" cy="102.43" r="1.25" fill="#fff" stroke="#161690" stroke-width="1.1"/>
<circle cx="326.94" cy="103.93" r="1.25" fill="#fff" stroke="#161690" stroke-width="1.1"/>
<circle cx="327.08" cy="105.42" r="1.25" fill="#fff" stroke="#161690" stroke-width="1.1"/>
<circle cx="327.24" cy="106.91" r="1.25" fill="#fff" stroke="#161690" stroke-width="1.1"/>
<circle cx="327.41" cy="108.40" r="1.25" fill="#fff" stroke="#161690" stroke-width="1.1"/>
<circle cx="327.60" cy="109.89" r="1.25" fill="#fff" stroke="#161690" stroke-width="1.1"/>
<circle cx="327.80" cy="111.37" r="1.25" fill="#fff" stroke="#161690" stroke-width="1.1"/>
<circle cx="328.02" cy="112.86" r="1.25" fill="#fff" stroke="#161690" stroke-width="1.1"/>
<circle cx="328.24" cy="114.34" r="1.25" fill="#fff" stroke="#161690" stroke-width="1.1"/>
<circle cx="328.47" cy="115.83" r="1.25" fill="#fff" stroke="#161690" stroke-width="1.1"/>
<circle cx="328.69" cy="117.31" r="1.25" fill="#fff" stroke="#161690" stroke-width="1.1"/>
<circle cx="328.92" cy="118.79" r="1.25" fill="#fff" stroke="#161690" stroke-width="1.1"/>
<circle cx="329.14" cy="120.28" r="1.25" fill="#fff" stroke="#161690" stroke-width="1.1"/>
<circle cx="329.36" cy="121.76" r="1.25" fill="#fff" stroke="#161690" stroke-width="1.1"/>
<circle cx="329.57" cy="123.24" r="1.25" fill="#fff" stroke="#161690" stroke-width="1.1"/>
<circle cx="329.78" cy="124.73" r="1.25" fill="#fff" stroke="#161690" stroke-width="1.1"/>
<circle cx="330.00" cy="126.21" r="1.25" fill="#fff" stroke="#161690" stroke-width="1.1"/>
<circle cx="330.22" cy="127.70" r="1.25" fill="#fff" stroke="#161690" stroke-width="1.1"/>
<circle cx="330.44" cy="129.18" r="1.25" fill="#fff" stroke="#161690" stroke-width="1.1"/>
<circle cx="330.68" cy="130.66" r="1.25" fill="#fff" stroke="#161690" stroke-width="1.1"/>
<circle cx="330.93" cy="132.14" r="1.25" fill="#fff" stroke="#161690" stroke-width="1.1"/>
<circle cx="331.20" cy="133.62" r="1.25" fill="#fff" stroke="#161690" stroke-width="1.1"/>
<circle cx="331.50" cy="135.09" r="1.25" fill="#fff" stroke="#161690" stroke-width="1.1"/>
<circle cx="331.80" cy="136.56" r="1.25" fill="#fff" stroke="#161690" stroke-width="1.1"/>
<circle cx="332.11" cy="138.02" r="1.25" fill="#fff" stroke="#161690" stroke-width="1.1"/>
<path d="M344.20,137.20 L344.20,133.50 L344.20,129.80 L344.20,126.10 L344.20,122.40 L344.20,118.70 L344.20,115.00 L344.30,111.30 L344.40,107.60 L344.40,107.60 L344.41,107.10 L344.42,106.45 L344.43,105.67 L344.45,104.80 L344.47,103.87 L344.50,102.90 L344.54,101.94 L344.60,101.00 L344.66,100.05 L344.73,99.04 L344.81,97.99 L344.90,96.92 L345.00,95.87 L345.12,94.85 L345.25,93.89 L345.40,93.00 L345.59,92.16 L345.82,91.34 L346.08,90.55 L346.35,89.80 L346.61,89.12 L346.85,88.51 L347.05,88.00 L347.20,87.60 L347.20,87.60 L347.28,87.85 L347.38,88.16 L347.50,88.52 L347.64,88.94 L347.78,89.41 L347.93,89.91 L348.07,90.44 L348.20,91.00 L348.32,91.58 L348.45,92.18 L348.57,92.81 L348.70,93.48 L348.82,94.20 L348.95,94.97 L349.07,95.80 L349.20,96.70 L349.33,97.69 L349.45,98.77 L349.58,99.92 L349.71,101.11 L349.83,102.34 L349.96,103.58 L350.08,104.80 L350.20,106.00 L350.31,107.19 L350.42,108.40 L350.53,109.61 L350.63,110.83 L350.74,112.04 L350.85,113.23 L350.97,114.38 L351.10,115.50 L351.24,116.58 L351.39,117.63 L351.55,118.66 L351.71,119.66 L351.88,120.65 L352.05,121.61 L352.23,122.56 L352.40,123.50 L352.58,124.43 L352.75,125.34 L352.93,126.25 L353.12,127.13 L353.31,127.99 L353.50,128.83 L353.70,129.63 L353.90,130.40 L354.11,131.14 L354.33,131.84 L354.55,132.52 L354.77,133.17 L355.00,133.79 L355.24,134.39 L355.47,134.96 L355.70,135.50 L355.95,136.03 L356.21,136.55 L356.49,137.05 L356.76,137.52 L357.02,137.95 L357.26,138.33 L357.45,138.65 L357.60,138.90" stroke="#f48c24" fill="none" stroke-width="0.9" stroke-linejoin="round" />
<circle cx="358.00" cy="138.90" r="1.25" fill="#fff" stroke="#f48c24" stroke-width="1.1"/>
<circle cx="357.70" cy="138.90" r="1.25" fill="#fff" stroke="#f48c24" stroke-width="1.1"/>
<circle cx="357.40" cy="138.90" r="1.25" fill="#fff" stroke="#f48c24" stroke-width="1.1"/>
<circle cx="357.10" cy="138.90" r="1.25" fill="#fff" stroke="#f48c24" stroke-width="1.1"/>
<circle cx="356.80" cy="138.90" r="1.25" fill="#fff" stroke="#f48c24" stroke-width="1.1"/>
<circle cx="344.50" cy="140.60" r="1.25" fill="#fff" stroke="#f48c24" stroke-width="1.1"/>
<circle cx="344.20" cy="140.60" r="1.25" fill="#fff" stroke="#f48c24" stroke-width="1.1"/>
<circle cx="343.90" cy="140.60" r="1.25" fill="#fff" stroke="#f48c24" stroke-width="1.1"/>
<circle cx="343.60" cy="140.60" r="1.25" fill="#fff" stroke="#f48c24" stroke-width="1.1"/>
<circle cx="343.30" cy="140.60" r="1.25" fill="#fff" stroke="#f48c24" stroke-width="1.1"/>
<circle cx="344.20" cy="137.20" r="1.25" fill="#fff" stroke="#f48c24" stroke-width="1.1"/>
<circle cx="344.20" cy="133.50" r="1.25" fill="#fff" stroke="#f48c24" stroke-width="1.1"/>
<circle cx="344.20" cy="129.80" r="1.25" fill="#fff" stroke="#f48c24" stroke-width="1.1"/>
<circle cx="344.20" cy="126.10" r="1.25" fill="#fff" stroke="#f48c24" stroke-width="1.1"/>
<circle cx="344.20" cy="122.40" r="1.25" fill="#fff" stroke="#f48c24" stroke-width="1.1"/>
<circle cx="344.20" cy="118.70" r="1.25" fill="#fff" stroke="#f48c24" stroke-width="1.1"/>
<circle cx="344.20" cy="115.00" r="1.25" fill="#fff" stroke="#f48c24" stroke-width="1.1"/>
<circle cx="344.30" cy="111.30" r="1.25" fill="#fff" stroke="#f48c24" stroke-width="1.1"/>
<circle cx="344.40" cy="107.60" r="1.25" fill="#fff" stroke="#f48c24" stroke-width="1.1"/>
<circle cx="344.40" cy="107.60" r="1.25" fill="#fff" stroke="#f48c24" stroke-width="1.1"/>
<circle cx="344.43" cy="106.00" r="1.25" fill="#fff" stroke="#f48c24" stroke-width="1.1"/>
<circle cx="344.46" cy="104.40" r="1.25" fill="#fff" stroke="#f48c24" stroke-width="1.1"/>
<circle cx="344.51" cy="102.80" r="1.25" fill="#fff" stroke="#f48c24" stroke-width="1.1"/>
<circle cx="344.59" cy="101.20" r="1.25" fill="#fff" stroke="#f48c24" stroke-width="1.1"/>
<circle cx="344.70" cy="99.61" r="1.25" fill="#fff" stroke="#f48c24" stroke-width="1.1"/>
<circle cx="344.81" cy="98.01" r="1.25" fill="#fff" stroke="#f48c24" stroke-width="1.1"/>
<circle cx="344.95" cy="96.42" r="1.25" fill="#fff" stroke="#f48c24" stroke-width="1.1"/>
<circle cx="345.12" cy="94.83" r="1.25" fill="#fff" stroke="#f48c24" stroke-width="1.1"/>
<circle cx="345.36" cy="93.24" r="1.25" fill="#fff" stroke="#f48c24" stroke-width="1.1"/>
<circle cx="345.72" cy="91.69" r="1.25" fill="#fff" stroke="#f48c24" stroke-width="1.1"/>
<circle cx="346.22" cy="90.17" r="1.25" fill="#fff" stroke="#f48c24" stroke-width="1.1"/>
<circle cx="346.79" cy="88.67" r="1.25" fill="#fff" stroke="#f48c24" stroke-width="1.1"/>
<circle cx="347.20" cy="87.60" r="1.25" fill="#fff" stroke="#f48c24" stroke-width="1.1"/>
<circle cx="347.69" cy="89.12" r="1.25" fill="#fff" stroke="#f48c24" stroke-width="1.1"/>
<circle cx="348.12" cy="90.66" r="1.25" fill="#fff" stroke="#f48c24" stroke-width="1.1"/>
<circle cx="348.46" cy="92.23" r="1.25" fill="#fff" stroke="#f48c24" stroke-width="1.1"/>
<circle cx="348.76" cy="93.80" r="1.25" fill="#fff" stroke="#f48c24" stroke-width="1.1"/>
<circle cx="349.01" cy="95.38" r="1.25" fill="#fff" stroke="#f48c24" stroke-width="1.1"/>
<circle cx="349.23" cy="96.96" r="1.25" fill="#fff" stroke="#f48c24" stroke-width="1.1"/>
<circle cx="349.43" cy="98.55" r="1.25" fill="#fff" stroke="#f48c24" stroke-width="1.1"/>
<circle cx="349.60" cy="100.14" r="1.25" fill="#fff" stroke="#f48c24" stroke-width="1.1"/>
<circle cx="349.77" cy="101.73" r="1.25" fill="#fff" stroke="#f48c24" stroke-width="1.1"/>
<circle cx="349.93" cy="103.32" r="1.25" fill="#fff" stroke="#f48c24" stroke-width="1.1"/>
<circle cx="350.09" cy="104.92" r="1.25" fill="#fff" stroke="#f48c24" stroke-width="1.1"/>
<circle cx="350.25" cy="106.51" r="1.25" fill="#fff" stroke="#f48c24" stroke-width="1.1"/>
<circle cx="350.40" cy="108.10" r="1.25" fill="#fff" stroke="#f48c24" stroke-width="1.1"/>
<circle cx="350.53" cy="109.70" r="1.25" fill="#fff" stroke="#f48c24" stroke-width="1.1"/>
<circle cx="350.67" cy="111.29" r="1.25" fill="#fff" stroke="#f48c24" stroke-width="1.1"/>
<circle cx="350.82" cy="112.88" r="1.25" fill="#fff" stroke="#f48c24" stroke-width="1.1"/>
<circle cx="350.98" cy="114.48" r="1.25" fill="#fff" stroke="#f48c24" stroke-width="1.1"/>
<circle cx="351.17" cy="116.06" r="1.25" fill="#fff" stroke="#f48c24" stroke-width="1.1"/>
<circle cx="351.39" cy="117.65" r="1.25" fill="#fff" stroke="#f48c24" stroke-width="1.1"/>
<circle cx="351.64" cy="119.23" r="1.25" fill="#fff" stroke="#f48c24" stroke-width="1.1"/>
<circle cx="351.91" cy="120.81" r="1.25" fill="#fff" stroke="#f48c24" stroke-width="1.1"/>
<circle cx="352.19" cy="122.38" r="1.25" fill="#fff" stroke="#f48c24" stroke-width="1.1"/>
<circle cx="352.49" cy="123.95" r="1.25" fill="#fff" stroke="#f48c24" stroke-width="1.1"/>
<circle cx="352.79" cy="125.52" r="1.25" fill="#fff" stroke="#f48c24" stroke-width="1.1"/>
<circle cx="353.11" cy="127.09" r="1.25" fill="#fff" stroke="#f48c24" stroke-width="1.1"/>
<circle cx="353.46" cy="128.65" r="1.25" fill="#fff" stroke="#f48c24" stroke-width="1.1"/>
<circle cx="353.85" cy="130.21" r="1.25" fill="#fff" stroke="#f48c24" stroke-width="1.1"/>
<circle cx="354.30" cy="131.74" r="1.25" fill="#fff" stroke="#f48c24" stroke-width="1.1"/>
<circle cx="354.81" cy="133.26" r="1.25" fill="#fff" stroke="#f48c24" stroke-width="1.1"/>
<circle cx="355.38" cy="134.75" r="1.25" fill="#fff" stroke="#f48c24" stroke-width="1.1"/>
<circle cx="356.04" cy="136.21" r="1.25" fill="#fff" stroke="#f48c24" stroke-width="1.1"/>
<circle cx="356.82" cy="137.61" r="1.25" fill="#fff" stroke="#f48c24" stroke-width="1.1"/>
<path d="M368.20,140.30 L368.29,139.43 L368.42,138.29 L368.56,136.92 L368.73,135.40 L368.90,133.79 L369.07,132.14 L369.24,130.52 L369.40,129.00 L369.55,127.53 L369.70,126.03 L369.85,124.51 L370.00,122.98 L370.15,121.46 L370.30,119.95 L370.45,118.46 L370.60,117.00 L370.75,115.55 L370.90,114.10 L371.05,112.64 L371.21,111.21 L371.36,109.82 L371.51,108.47 L371.65,107.20 L371.80,106.00 L371.95,104.85 L372.11,103.72 L372.27,102.64 L372.43,101.61 L372.57,100.67 L372.70,99.85 L372.82,99.15 L372.90,98.60 L372.90,98.60 L372.94,98.77 L373.00,98.98 L373.07,99.24 L373.15,99.52 L373.23,99.85 L373.32,100.20 L373.41,100.59 L373.50,101.00 L373.59,101.43 L373.68,101.88 L373.78,102.36 L373.88,102.88 L373.98,103.43 L374.08,104.03 L374.19,104.68 L374.30,105.40 L374.41,106.19 L374.53,107.07 L374.64,108.00 L374.76,108.98 L374.89,109.99 L375.02,111.00 L375.15,112.01 L375.30,113.00 L375.45,113.99 L375.60,115.01 L375.76,116.04 L375.92,117.08 L376.09,118.09 L376.28,119.08 L376.48,120.02 L376.70,120.90 L376.94,121.71 L377.20,122.47 L377.47,123.19 L377.75,123.87 L378.05,124.53 L378.35,125.18 L378.67,125.83 L379.00,126.50 L379.34,127.17 L379.69,127.83 L380.05,128.48 L380.43,129.13 L380.81,129.77 L381.20,130.42 L381.60,131.06 L382.00,131.70 L382.41,132.35 L382.84,132.99 L383.28,133.64 L383.72,134.28 L384.17,134.92 L384.61,135.56 L385.06,136.18 L385.50,136.80 L385.96,137.44 L386.46,138.11 L386.97,138.80 L387.47,139.47 L387.94,140.10 L388.37,140.66 L388.73,141.14 L389.00,141.50" stroke="#189018" fill="none" stroke-width="0.9" stroke-linejoin="round" />
<circle cx="389.60" cy="141.40" r="1.25" fill="#fff" stroke="#189018" stroke-width="1.1"/>
<circle cx="389.30" cy="141.40" r="1.25" fill="#fff" stroke="#189018" stroke-width="1.1"/>
<circle cx="389.00" cy="141.40" r="1.25" fill="#fff" stroke="#189018" stroke-width="1.1"/>
<circle cx="388.70" cy="141.40" r="1.25" fill="#fff" stroke="#189018" stroke-width="1.1"/>
<circle cx="388.40" cy="141.40" r="1.25" fill="#fff" stroke="#189018" stroke-width="1.1"/>
<circle cx="368.60" cy="140.60" r="1.25" fill="#fff" stroke="#189018" stroke-width="1.1"/>
<circle cx="368.30" cy="140.60" r="1.25" fill="#fff" stroke="#189018" stroke-width="1.1"/>
<circle cx="368.00" cy="140.60" r="1.25" fill="#fff" stroke="#189018" stroke-width="1.1"/>
<circle cx="367.70" cy="140.60" r="1.25" fill="#fff" stroke="#189018" stroke-width="1.1"/>
<circle cx="367.40" cy="140.60" r="1.25" fill="#fff" stroke="#189018" stroke-width="1.1"/>
<circle cx="368.20" cy="140.30" r="1.25" fill="#fff" stroke="#189018" stroke-width="1.1"/>
<circle cx="368.39" cy="138.51" r="1.25" fill="#fff" stroke="#189018" stroke-width="1.1"/>
<circle cx="368.58" cy="136.72" r="1.25" fill="#fff" stroke="#189018" stroke-width="1.1"/>
<circle cx="368.78" cy="134.93" r="1.25" fill="#fff" stroke="#189018" stroke-width="1.1"/>
<circle cx="368.97" cy="133.14" r="1.25" fill="#fff" stroke="#189018" stroke-width="1.1"/>
<circle cx="369.15" cy="131.35" r="1.25" fill="#fff" stroke="#189018" stroke-width="1.1"/>
<circle cx="369.34" cy="129.56" r="1.25" fill="#fff" stroke="#189018" stroke-width="1.1"/>
<circle cx="369.53" cy="127.77" r="1.25" fill="#fff" stroke="#189018" stroke-width="1.1"/>
<circle cx="369.70" cy="125.98" r="1.25" fill="#fff" stroke="#189018" stroke-width="1.1"/>
<circle cx="369.88" cy="124.19" r="1.25" fill="#fff" stroke="#189018" stroke-width="1.1"/>
<circle cx="370.06" cy="122.40" r="1.25" fill="#fff" stroke="#189018" stroke-width="1.1"/>
<circle cx="370.23" cy="120.60" r="1.25" fill="#fff" stroke="#189018" stroke-width="1.1"/>
<circle cx="370.41" cy="118.81" r="1.25" fill="#fff" stroke="#189018" stroke-width="1.1"/>
<circle cx="370.60" cy="117.02" r="1.25" fill="#fff" stroke="#189018" stroke-width="1.1"/>
<circle cx="370.78" cy="115.23" r="1.25" fill="#fff" stroke="#189018" stroke-width="1.1"/>
<circle cx="370.97" cy="113.44" r="1.25" fill="#fff" stroke="#189018" stroke-width="1.1"/>
<circle cx="371.16" cy="111.65" r="1.25" fill="#fff" stroke="#189018" stroke-width="1.1"/>
<circle cx="371.35" cy="109.86" r="1.25" fill="#fff" stroke="#189018" stroke-width="1.1"/>
<circle cx="371.55" cy="108.07" r="1.25" fill="#fff" stroke="#189018" stroke-width="1.1"/>
<circle cx="371.77" cy="106.29" r="1.25" fill="#fff" stroke="#189018" stroke-width="1.1"/>
<circle cx="372.00" cy="104.50" r="1.25" fill="#fff" stroke="#189018" stroke-width="1.1"/>
<circle cx="372.26" cy="102.72" r="1.25" fill="#fff" stroke="#189018" stroke-width="1.1"/>
<circle cx="372.53" cy="100.94" r="1.25" fill="#fff" stroke="#189018" stroke-width="1.1"/>
<circle cx="372.81" cy="99.16" r="1.25" fill="#fff" stroke="#189018" stroke-width="1.1"/>
<circle cx="372.90" cy="98.60" r="1.25" fill="#fff" stroke="#189018" stroke-width="1.1"/>
<circle cx="373.31" cy="100.15" r="1.25" fill="#fff" stroke="#189018" stroke-width="1.1"/>
<circle cx="373.65" cy="101.71" r="1.25" fill="#fff" stroke="#189018" stroke-width="1.1"/>
<circle cx="373.95" cy="103.28" r="1.25" fill="#fff" stroke="#189018" stroke-width="1.1"/>
<circle cx="374.22" cy="104.86" r="1.25" fill="#fff" stroke="#189018" stroke-width="1.1"/>
<circle cx="374.45" cy="106.44" r="1.25" fill="#fff" stroke="#189018" stroke-width="1.1"/>
<circle cx="374.65" cy="108.03" r="1.25" fill="#fff" stroke="#189018" stroke-width="1.1"/>
<circle cx="374.84" cy="109.62" r="1.25" fill="#fff" stroke="#189018" stroke-width="1.1"/>
<circle cx="375.04" cy="111.21" r="1.25" fill="#fff" stroke="#189018" stroke-width="1.1"/>
<circle cx="375.27" cy="112.79" r="1.25" fill="#fff" stroke="#189018" stroke-width="1.1"/>
<circle cx="375.51" cy="114.37" r="1.25" fill="#fff" stroke="#189018" stroke-width="1.1"/>
<circle cx="375.74" cy="115.95" r="1.25" fill="#fff" stroke="#189018" stroke-width="1.1"/>
<circle cx="376.00" cy="117.53" r="1.25" fill="#fff" stroke="#189018" stroke-width="1.1"/>
<circle cx="376.28" cy="119.11" r="1.25" fill="#fff" stroke="#189018" stroke-width="1.1"/>
<circle cx="376.64" cy="120.67" r="1.25" fill="#fff" stroke="#189018" stroke-width="1.1"/>
<circle cx="377.10" cy="122.20" r="1.25" fill="#fff" stroke="#189018" stroke-width="1.1"/>
<circle cx="377.68" cy="123.69" r="1.25" fill="#fff" stroke="#189018" stroke-width="1.1"/>
<circle cx="378.34" cy="125.15" r="1.25" fill="#fff" stroke="#189018" stroke-width="1.1"/>
<circle cx="379.04" cy="126.58" r="1.25" fill="#fff" stroke="#189018" stroke-width="1.1"/>
<circle cx="379.78" cy="128.00" r="1.25" fill="#fff" stroke="#189018" stroke-width="1.1"/>
<circle cx="380.58" cy="129.39" r="1.25" fill="#fff" stroke="#189018" stroke-width="1.1"/>
<circle cx="381.41" cy="130.76" r="1.25" fill="#fff" stroke="#189018" stroke-width="1.1"/>
<circle cx="382.26" cy="132.11" r="1.25" fill="#fff" stroke="#189018" stroke-width="1.1"/>
<circle cx="383.15" cy="133.45" r="1.25" fill="#fff" stroke="#189018" stroke-width="1.1"/>
<circle cx="384.05" cy="134.76" r="1.25" fill="#fff" stroke="#189018" stroke-width="1.1"/>
<circle cx="384.98" cy="136.07" r="1.25" fill="#fff" stroke="#189018" stroke-width="1.1"/>
<circle cx="385.91" cy="137.37" r="1.25" fill="#fff" stroke="#189018" stroke-width="1.1"/>
<circle cx="386.86" cy="138.66" r="1.25" fill="#fff" stroke="#189018" stroke-width="1.1"/>
<circle cx="387.82" cy="139.94" r="1.25" fill="#fff" stroke="#189018" stroke-width="1.1"/>
<circle cx="388.79" cy="141.21" r="1.25" fill="#fff" stroke="#189018" stroke-width="1.1"/>
<path d="M400.80,140.40 L400.83,139.90 L400.87,139.24 L400.92,138.45 L400.97,137.58 L401.03,136.65 L401.09,135.72 L401.15,134.82 L401.20,134.00 L401.25,133.27 L401.29,132.59 L401.34,131.94 L401.38,131.29 L401.43,130.60 L401.48,129.84 L401.54,128.99 L401.60,128.00 L401.67,126.84 L401.74,125.51 L401.82,124.07 L401.91,122.56 L402.00,121.05 L402.09,119.59 L402.19,118.22 L402.30,117.00 L402.42,115.91 L402.54,114.88 L402.67,113.92 L402.81,113.02 L402.95,112.19 L403.09,111.40 L403.25,110.68 L403.40,110.00 L403.57,109.38 L403.76,108.82 L403.96,108.31 L404.17,107.86 L404.36,107.47 L404.54,107.13 L404.69,106.84 L404.80,106.60 L404.80,106.60 L404.84,106.74 L404.89,106.90 L404.95,107.10 L405.02,107.33 L405.09,107.59 L405.16,107.87 L405.23,108.17 L405.30,108.50 L405.36,108.83 L405.42,109.16 L405.47,109.51 L405.53,109.88 L405.59,110.30 L405.65,110.79 L405.72,111.35 L405.80,112.00 L405.88,112.79 L405.97,113.72 L406.06,114.76 L406.16,115.84 L406.26,116.93 L406.36,117.98 L406.48,118.95 L406.60,119.80 L406.72,120.53 L406.85,121.18 L406.98,121.76 L407.12,122.31 L407.27,122.82 L407.43,123.31 L407.60,123.80 L407.80,124.30 L408.02,124.80 L408.26,125.28 L408.51,125.75 L408.78,126.21 L409.06,126.65 L409.34,127.10 L409.62,127.55 L409.90,128.00 L410.18,128.46 L410.45,128.92 L410.73,129.38 L411.02,129.84 L411.31,130.29 L411.60,130.74 L411.90,131.17 L412.20,131.60 L412.51,132.02 L412.83,132.44 L413.16,132.85 L413.49,133.25 L413.82,133.64 L414.15,134.01 L414.48,134.37 L414.80,134.70 L415.12,135.01 L415.43,135.29 L415.74,135.55 L416.06,135.79 L416.37,136.03 L416.68,136.25 L416.99,136.48 L417.30,136.70 L417.61,136.92 L417.93,137.14 L418.24,137.35 L418.56,137.55 L418.87,137.75 L419.18,137.94 L419.49,138.12 L419.80,138.30 L420.11,138.47 L420.41,138.64 L420.72,138.79 L421.02,138.94 L421.33,139.09 L421.62,139.23 L421.92,139.37 L422.20,139.50 L422.49,139.63 L422.80,139.77 L423.10,139.90 L423.40,140.03 L423.68,140.14 L423.93,140.25 L424.14,140.33 L424.30,140.40" stroke="#000" fill="none" stroke-width="0.9" stroke-linejoin="round" />
<circle cx="424.80" cy="140.40" r="1.25" fill="#fff" stroke="#000" stroke-width="1.1"/>
<circle cx="424.50" cy="140.40" r="1.25" fill="#fff" stroke="#000" stroke-width="1.1"/>
<circle cx="424.20" cy="140.40" r="1.25" fill="#fff" stroke="#000" stroke-width="1.1"/>
<circle cx="423.90" cy="140.40" r="1.25" fill="#fff" stroke="#000" stroke-width="1.1"/>
<circle cx="423.60" cy="140.40" r="1.25" fill="#fff" stroke="#000" stroke-width="1.1"/>
<circle cx="401.30" cy="140.50" r="1.25" fill="#fff" stroke="#000" stroke-width="1.1"/>
<circle cx="401.00" cy="140.50" r="1.25" fill="#fff" stroke="#000" stroke-width="1.1"/>
<circle cx="400.70" cy="140.50" r="1.25" fill="#fff" stroke="#000" stroke-width="1.1"/>
<circle cx="400.40" cy="140.50" r="1.25" fill="#fff" stroke="#000" stroke-width="1.1"/>
<circle cx="400.10" cy="140.50" r="1.25" fill="#fff" stroke="#000" stroke-width="1.1"/>
<circle cx="400.80" cy="140.40" r="1.25" fill="#fff" stroke="#000" stroke-width="1.1"/>
<circle cx="400.94" cy="138.20" r="1.25" fill="#fff" stroke="#000" stroke-width="1.1"/>
<circle cx="401.07" cy="136.01" r="1.25" fill="#fff" stroke="#000" stroke-width="1.1"/>
<circle cx="401.21" cy="133.81" r="1.25" fill="#fff" stroke="#000" stroke-width="1.1"/>
<circle cx="401.36" cy="131.62" r="1.25" fill="#fff" stroke="#000" stroke-width="1.1"/>
<circle cx="401.51" cy="129.42" r="1.25" fill="#fff" stroke="#000" stroke-width="1.1"/>
<circle cx="401.65" cy="127.23" r="1.25" fill="#fff" stroke="#000" stroke-width="1.1"/>
<circle cx="401.77" cy="125.03" r="1.25" fill="#fff" stroke="#000" stroke-width="1.1"/>
<circle cx="401.89" cy="122.83" r="1.25" fill="#fff" stroke="#000" stroke-width="1.1"/>
<circle cx="402.02" cy="120.64" r="1.25" fill="#fff" stroke="#000" stroke-width="1.1"/>
<circle cx="402.17" cy="118.44" r="1.25" fill="#fff" stroke="#000" stroke-width="1.1"/>
<circle cx="402.38" cy="116.25" r="1.25" fill="#fff" stroke="#000" stroke-width="1.1"/>
<circle cx="402.65" cy="114.07" r="1.25" fill="#fff" stroke="#000" stroke-width="1.1"/>
<circle cx="403.00" cy="111.90" r="1.25" fill="#fff" stroke="#000" stroke-width="1.1"/>
<circle cx="403.47" cy="109.75" r="1.25" fill="#fff" stroke="#000" stroke-width="1.1"/>
<circle cx="404.25" cy="107.70" r="1.25" fill="#fff" stroke="#000" stroke-width="1.1"/>
<circle cx="404.80" cy="106.60" r="1.25" fill="#fff" stroke="#000" stroke-width="1.1"/>
<circle cx="405.20" cy="108.04" r="1.25" fill="#fff" stroke="#000" stroke-width="1.1"/>
<circle cx="405.48" cy="109.52" r="1.25" fill="#fff" stroke="#000" stroke-width="1.1"/>
<circle cx="405.68" cy="111.00" r="1.25" fill="#fff" stroke="#000" stroke-width="1.1"/>
<circle cx="405.85" cy="112.50" r="1.25" fill="#fff" stroke="#000" stroke-width="1.1"/>
<circle cx="405.99" cy="113.99" r="1.25" fill="#fff" stroke="#000" stroke-width="1.1"/>
<circle cx="406.12" cy="115.48" r="1.25" fill="#fff" stroke="#000" stroke-width="1.1"/>
<circle cx="406.26" cy="116.98" r="1.25" fill="#fff" stroke="#000" stroke-width="1.1"/>
<circle cx="406.42" cy="118.47" r="1.25" fill="#fff" stroke="#000" stroke-width="1.1"/>
<circle cx="406.63" cy="119.95" r="1.25" fill="#fff" stroke="#000" stroke-width="1.1"/>
<circle cx="406.91" cy="121.43" r="1.25" fill="#fff" stroke="#000" stroke-width="1.1"/>
<circle cx="407.29" cy="122.88" r="1.25" fill="#fff" stroke="#000" stroke-width="1.1"/>
<circle cx="407.80" cy="124.29" r="1.25" fill="#fff" stroke="#000" stroke-width="1.1"/>
<circle cx="408.45" cy="125.64" r="1.25" fill="#fff" stroke="#000" stroke-width="1.1"/>
<circle cx="409.23" cy="126.92" r="1.25" fill="#fff" stroke="#000" stroke-width="1.1"/>
<circle cx="410.02" cy="128.19" r="1.25" fill="#fff" stroke="#000" stroke-width="1.1"/>
<circle cx="410.80" cy="129.48" r="1.25" fill="#fff" stroke="#000" stroke-width="1.1"/>
<circle cx="411.60" cy="130.74" r="1.25" fill="#fff" stroke="#000" stroke-width="1.1"/>
<circle cx="412.47" cy="131.96" r="1.25" fill="#fff" stroke="#000" stroke-width="1.1"/>
<circle cx="413.40" cy="133.14" r="1.25" fill="#fff" stroke="#000" stroke-width="1.1"/>
<circle cx="414.39" cy="134.27" r="1.25" fill="#fff" stroke="#000" stroke-width="1.1"/>
<circle cx="415.46" cy="135.31" r="1.25" fill="#fff" stroke="#000" stroke-width="1.1"/>
<circle cx="416.65" cy="136.23" r="1.25" fill="#fff" stroke="#000" stroke-width="1.1"/>
<circle cx="417.87" cy="137.10" r="1.25" fill="#fff" stroke="#000" stroke-width="1.1"/>
<circle cx="419.14" cy="137.91" r="1.25" fill="#fff" stroke="#000" stroke-width="1.1"/>
<circle cx="420.44" cy="138.65" r="1.25" fill="#fff" stroke="#000" stroke-width="1.1"/>
<circle cx="421.79" cy="139.31" r="1.25" fill="#fff" stroke="#000" stroke-width="1.1"/>
<circle cx="423.16" cy="139.92" r="1.25" fill="#fff" stroke="#000" stroke-width="1.1"/>
<text x="284.40" y="80.50" font-size="8.7" text-anchor="middle" fill="#111" font-weight="bold" >27.3</text>
<text x="323.40" y="67.80" font-size="8.7" text-anchor="middle" fill="#111" font-weight="bold" >33.2</text>
<text x="348.90" y="84.20" font-size="8.7" text-anchor="middle" fill="#111" font-weight="bold" >25.4</text>
<text x="373.10" y="94.80" font-size="8.7" text-anchor="middle" fill="#111" font-weight="bold" >20.1</text>
<text x="405.60" y="102.20" font-size="8.7" text-anchor="middle" fill="#111" font-weight="bold" >16.2</text>
<line x1="344.80" y1="28.00" x2="353.60" y2="28.00" stroke="#d01414" stroke-width="1.0" />
<circle cx="348.9" cy="28.0" r="1.0" fill="#fff" stroke="#d01414" stroke-width="1.0"/>
<circle cx="350.0" cy="28.0" r="1.0" fill="#fff" stroke="#d01414" stroke-width="1.0"/>
<text x="355.60" y="30.60" font-size="7.25" text-anchor="start" fill="#c8101a" font-weight="bold" >MNPE-Ni-N-C/Ti<tspan dy="2.03" font-size="4.93">3</tspan><tspan dy="-2.03">C</tspan><tspan dy="2.03" font-size="4.93">2</tspan><tspan dy="-2.03">T</tspan><tspan dy="2.03" font-size="4.93">x</tspan></text>
<line x1="344.80" y1="39.30" x2="353.60" y2="39.30" stroke="#18189c" stroke-width="1.0" />
<circle cx="348.9" cy="39.3" r="1.0" fill="#fff" stroke="#18189c" stroke-width="1.0"/>
<circle cx="350.0" cy="39.3" r="1.0" fill="#fff" stroke="#18189c" stroke-width="1.0"/>
<text x="355.60" y="41.90" font-size="7.25" text-anchor="start" fill="#14148c" font-weight="bold" >ME-Ni-N-C/Ti<tspan dy="2.03" font-size="4.93">3</tspan><tspan dy="-2.03">C</tspan><tspan dy="2.03" font-size="4.93">2</tspan><tspan dy="-2.03">T</tspan><tspan dy="2.03" font-size="4.93">x</tspan></text>
<line x1="344.80" y1="49.60" x2="353.60" y2="49.60" stroke="#f48c24" stroke-width="1.0" />
<circle cx="348.9" cy="49.6" r="1.0" fill="#fff" stroke="#f48c24" stroke-width="1.0"/>
<circle cx="350.0" cy="49.6" r="1.0" fill="#fff" stroke="#f48c24" stroke-width="1.0"/>
<text x="355.60" y="52.20" font-size="7.25" text-anchor="start" fill="#f0821e" font-weight="bold" >ME-Ni-N-C</text>
<line x1="344.80" y1="59.50" x2="353.60" y2="59.50" stroke="#189018" stroke-width="1.0" />
<circle cx="348.9" cy="59.5" r="1.0" fill="#fff" stroke="#189018" stroke-width="1.0"/>
<circle cx="350.0" cy="59.5" r="1.0" fill="#fff" stroke="#189018" stroke-width="1.0"/>
<text x="355.60" y="62.10" font-size="7.25" text-anchor="start" fill="#1a8a26" font-weight="bold" >AuE-Ni-N-C/Ti<tspan dy="2.03" font-size="4.93">3</tspan><tspan dy="-2.03">C</tspan><tspan dy="2.03" font-size="4.93">2</tspan><tspan dy="-2.03">T</tspan><tspan dy="2.03" font-size="4.93">x</tspan></text>
<line x1="344.80" y1="69.60" x2="353.60" y2="69.60" stroke="#000" stroke-width="1.0" />
<circle cx="348.9" cy="69.6" r="1.0" fill="#fff" stroke="#000" stroke-width="1.0"/>
<circle cx="350.0" cy="69.6" r="1.0" fill="#fff" stroke="#000" stroke-width="1.0"/>
<text x="355.60" y="72.20" font-size="7.25" text-anchor="start" fill="#111" font-weight="bold" >AuE-Ni-N-C</text>
<text x="454.30" y="13.70" font-size="18.5" text-anchor="start" fill="#111" font-weight="bold" >c</text>
<rect x="492.50" y="20.60" width="165.30" height="132.90" fill="none" stroke="#2a2a2a" stroke-width="1.25"/>
<line x1="490.00" y1="153.50" x2="492.50" y2="153.50" stroke="#2a2a2a" stroke-width="1" />
<line x1="490.00" y1="131.35" x2="492.50" y2="131.35" stroke="#2a2a2a" stroke-width="1" />
<line x1="490.00" y1="109.20" x2="492.50" y2="109.20" stroke="#2a2a2a" stroke-width="1" />
<line x1="490.00" y1="87.05" x2="492.50" y2="87.05" stroke="#2a2a2a" stroke-width="1" />
<line x1="490.00" y1="64.90" x2="492.50" y2="64.90" stroke="#2a2a2a" stroke-width="1" />
<line x1="490.00" y1="42.75" x2="492.50" y2="42.75" stroke="#2a2a2a" stroke-width="1" />
<line x1="490.00" y1="20.60" x2="492.50" y2="20.60" stroke="#2a2a2a" stroke-width="1" />
<line x1="491.00" y1="142.43" x2="492.50" y2="142.43" stroke="#2a2a2a" stroke-width="1" />
<line x1="491.00" y1="120.28" x2="492.50" y2="120.28" stroke="#2a2a2a" stroke-width="1" />
<line x1="491.00" y1="98.12" x2="492.50" y2="98.12" stroke="#2a2a2a" stroke-width="1" />
<line x1="491.00" y1="75.98" x2="492.50" y2="75.98" stroke="#2a2a2a" stroke-width="1" />
<line x1="491.00" y1="53.83" x2="492.50" y2="53.83" stroke="#2a2a2a" stroke-width="1" />
<line x1="491.00" y1="31.68" x2="492.50" y2="31.68" stroke="#2a2a2a" stroke-width="1" />
<text x="487.50" y="156.10" font-size="8.6" text-anchor="end" fill="#111" font-weight="bold" >0</text>
<text x="487.50" y="133.95" font-size="8.6" text-anchor="end" fill="#111" font-weight="bold" >40</text>
<text x="487.50" y="111.80" font-size="8.6" text-anchor="end" fill="#111" font-weight="bold" >80</text>
<text x="487.50" y="89.65" font-size="8.6" text-anchor="end" fill="#111" font-weight="bold" >120</text>
<text x="487.50" y="67.50" font-size="8.6" text-anchor="end" fill="#111" font-weight="bold" >160</text>
<text x="487.50" y="45.35" font-size="8.6" text-anchor="end" fill="#111" font-weight="bold" >200</text>
<text x="487.50" y="23.20" font-size="8.6" text-anchor="end" fill="#111" font-weight="bold" >240</text>
<text transform="translate(465.4,84.9) rotate(-90)" font-size="11" text-anchor="middle" fill="#111" font-weight="bold">T<tspan dy="2.1" font-size="10.3">rec</tspan><tspan dy="-2.1"> (s)</tspan></text>
<rect x="509.15" y="84.50" width="18.7" height="69.00" fill="url(#gK)"/>
<rect x="537.25" y="90.04" width="18.7" height="63.46" fill="url(#gG)"/>
<rect x="565.65" y="125.81" width="18.7" height="27.69" fill="url(#gO)"/>
<rect x="594.25" y="109.59" width="18.7" height="43.91" fill="url(#gB)"/>
<rect x="622.25" y="70.60" width="18.7" height="82.90" fill="url(#gR)"/>
<path d="M518.50,84.50 L546.60,90.04 L575.00,125.81 L603.60,109.59 L631.60,70.60" stroke="#111" fill="none" stroke-width="1.1" stroke-linejoin="round" />
<circle cx="518.50" cy="84.30" r="3.9" fill="url(#ball)"/>
<circle cx="546.60" cy="89.84" r="3.9" fill="url(#ball)"/>
<circle cx="575.00" cy="125.61" r="3.9" fill="url(#ball)"/>
<circle cx="603.60" cy="109.39" r="3.9" fill="url(#ball)"/>
<circle cx="631.60" cy="70.40" r="3.9" fill="url(#ball)"/>
<rect x="496.6" y="25.90" width="9.4" height="5.6" fill="url(#gR)"/>
<text x="509.50" y="31.30" font-size="7.2" text-anchor="start" fill="#c8101a" font-weight="bold" >MNPE-Ni-N-C/Ti<tspan dy="2.02" font-size="4.90">3</tspan><tspan dy="-2.02">C</tspan><tspan dy="2.02" font-size="4.90">2</tspan><tspan dy="-2.02">T</tspan><tspan dy="2.02" font-size="4.90">x</tspan></text>
<rect x="496.6" y="36.20" width="9.4" height="5.6" fill="url(#gB)"/>
<text x="509.50" y="41.60" font-size="7.2" text-anchor="start" fill="#14148c" font-weight="bold" >ME-Ni-N-C/Ti<tspan dy="2.02" font-size="4.90">3</tspan><tspan dy="-2.02">C</tspan><tspan dy="2.02" font-size="4.90">2</tspan><tspan dy="-2.02">T</tspan><tspan dy="2.02" font-size="4.90">x</tspan></text>
<rect x="496.6" y="46.50" width="9.4" height="5.6" fill="url(#gO)"/>
<text x="509.50" y="51.90" font-size="7.2" text-anchor="start" fill="#f0821e" font-weight="bold" >ME-Ni-N-C</text>
<rect x="496.6" y="56.40" width="9.4" height="5.6" fill="url(#gG)"/>
<text x="509.50" y="61.80" font-size="7.2" text-anchor="start" fill="#1a8a26" font-weight="bold" >AuE-Ni-N-C/Ti<tspan dy="2.02" font-size="4.90">3</tspan><tspan dy="-2.02">C</tspan><tspan dy="2.02" font-size="4.90">2</tspan><tspan dy="-2.02">T</tspan><tspan dy="2.02" font-size="4.90">x</tspan></text>
<rect x="496.6" y="66.80" width="9.4" height="5.6" fill="url(#gK)"/>
<text x="509.50" y="72.20" font-size="7.2" text-anchor="start" fill="#111" font-weight="bold" >AuE-Ni-N-C</text>
<text x="3.30" y="194.50" font-size="17.5" text-anchor="start" fill="#111" font-weight="bold" >d</text>
<rect x="44.40" y="205.40" width="165.50" height="133.40" fill="none" stroke="#2a2a2a" stroke-width="1.25"/>
<line x1="41.90" y1="338.80" x2="44.40" y2="338.80" stroke="#2a2a2a" stroke-width="1" />
<line x1="41.90" y1="307.30" x2="44.40" y2="307.30" stroke="#2a2a2a" stroke-width="1" />
<line x1="41.90" y1="275.80" x2="44.40" y2="275.80" stroke="#2a2a2a" stroke-width="1" />
<line x1="41.90" y1="244.30" x2="44.40" y2="244.30" stroke="#2a2a2a" stroke-width="1" />
<line x1="41.90" y1="212.80" x2="44.40" y2="212.80" stroke="#2a2a2a" stroke-width="1" />
<line x1="42.90" y1="323.05" x2="44.40" y2="323.05" stroke="#2a2a2a" stroke-width="1" />
<line x1="42.90" y1="291.55" x2="44.40" y2="291.55" stroke="#2a2a2a" stroke-width="1" />
<line x1="42.90" y1="260.05" x2="44.40" y2="260.05" stroke="#2a2a2a" stroke-width="1" />
<line x1="42.90" y1="228.55" x2="44.40" y2="228.55" stroke="#2a2a2a" stroke-width="1" />
<line x1="60.80" y1="338.80" x2="60.80" y2="341.30" stroke="#2a2a2a" stroke-width="1" />
<line x1="93.95" y1="338.80" x2="93.95" y2="341.30" stroke="#2a2a2a" stroke-width="1" />
<line x1="127.10" y1="338.80" x2="127.10" y2="341.30" stroke="#2a2a2a" stroke-width="1" />
<line x1="160.25" y1="338.80" x2="160.25" y2="341.30" stroke="#2a2a2a" stroke-width="1" />
<line x1="193.40" y1="338.80" x2="193.40" y2="341.30" stroke="#2a2a2a" stroke-width="1" />
<line x1="44.22" y1="338.80" x2="44.22" y2="340.30" stroke="#2a2a2a" stroke-width="1" />
<line x1="77.38" y1="338.80" x2="77.38" y2="340.30" stroke="#2a2a2a" stroke-width="1" />
<line x1="110.52" y1="338.80" x2="110.52" y2="340.30" stroke="#2a2a2a" stroke-width="1" />
<line x1="143.68" y1="338.80" x2="143.68" y2="340.30" stroke="#2a2a2a" stroke-width="1" />
<line x1="176.82" y1="338.80" x2="176.82" y2="340.30" stroke="#2a2a2a" stroke-width="1" />
<line x1="209.97" y1="338.80" x2="209.97" y2="340.30" stroke="#2a2a2a" stroke-width="1" />
<text x="39.40" y="341.50" font-size="8.6" text-anchor="end" fill="#111" font-weight="bold" >12</text>
<text x="39.40" y="310.00" font-size="8.6" text-anchor="end" fill="#111" font-weight="bold" >16</text>
<text x="39.40" y="278.50" font-size="8.6" text-anchor="end" fill="#111" font-weight="bold" >20</text>
<text x="39.40" y="247.00" font-size="8.6" text-anchor="end" fill="#111" font-weight="bold" >24</text>
<text x="39.40" y="215.50" font-size="8.6" text-anchor="end" fill="#111" font-weight="bold" >28</text>
<text x="60.80" y="349.30" font-size="8.2" text-anchor="middle" fill="#111" font-weight="bold" >1</text>
<text x="93.95" y="349.30" font-size="8.2" text-anchor="middle" fill="#111" font-weight="bold" >2</text>
<text x="127.10" y="349.30" font-size="8.2" text-anchor="middle" fill="#111" font-weight="bold" >3</text>
<text x="160.25" y="349.30" font-size="8.2" text-anchor="middle" fill="#111" font-weight="bold" >4</text>
<text x="193.40" y="349.30" font-size="8.2" text-anchor="middle" fill="#111" font-weight="bold" >5</text>
<text x="126.90" y="359.70" font-size="11.1" text-anchor="middle" fill="#111" font-weight="bold" >Concentration (ppm)</text>
<text transform="translate(25.60,271.40) rotate(-90)" x="0" y="0" font-size="10.9" text-anchor="middle" fill="#111" font-weight="bold">Response (%)</text>
<line x1="60.80" y1="322.58" x2="193.40" y2="218.00" stroke="#cc1a1a" stroke-width="1.35" />
<radialGradient id="rdot" cx="0.5" cy="0.5" r="0.5" fx="0.4" fy="0.35"><stop offset="0" stop-color="#ff9a9a"/><stop offset="0.45" stop-color="#e82020"/><stop offset="1" stop-color="#b00a0a"/></radialGradient>
<circle cx="60.80" cy="322.42" r="3.3" fill="url(#rdot)"/>
<circle cx="93.95" cy="295.88" r="3.3" fill="url(#rdot)"/>
<circle cx="127.10" cy="272.89" r="3.3" fill="url(#rdot)"/>
<circle cx="160.25" cy="242.96" r="3.3" fill="url(#rdot)"/>
<circle cx="193.40" cy="218.55" r="3.3" fill="url(#rdot)"/>
<text x="134.40" y="289.00" font-size="8.8" text-anchor="start" fill="#111" font-weight="bold" >y = 3.32x + 10.66</text>
<text x="134.40" y="308.00" font-size="8.8" text-anchor="start" fill="#111" font-weight="bold" >R<tspan dy="-3.3" font-size="5.8">2</tspan><tspan dy="3.3"> = 0.99778</tspan></text>
<text x="134.40" y="326.40" font-size="8.8" text-anchor="start" fill="#a01a1e" font-weight="bold" >LOD = 12.1 ppb</text>
<text x="236.80" y="194.50" font-size="17.5" text-anchor="start" fill="#111" font-weight="bold" >e</text>
<rect x="267.10" y="205.60" width="165.40" height="132.50" fill="none" stroke="#2a2a2a" stroke-width="1.25"/>
<line x1="264.60" y1="338.10" x2="267.10" y2="338.10" stroke="#2a2a2a" stroke-width="1" />
<line x1="264.60" y1="311.60" x2="267.10" y2="311.60" stroke="#2a2a2a" stroke-width="1" />
<line x1="264.60" y1="285.10" x2="267.10" y2="285.10" stroke="#2a2a2a" stroke-width="1" />
<line x1="264.60" y1="258.60" x2="267.10" y2="258.60" stroke="#2a2a2a" stroke-width="1" />
<line x1="264.60" y1="232.10" x2="267.10" y2="232.10" stroke="#2a2a2a" stroke-width="1" />
<line x1="264.60" y1="205.60" x2="267.10" y2="205.60" stroke="#2a2a2a" stroke-width="1" />
<line x1="265.60" y1="324.85" x2="267.10" y2="324.85" stroke="#2a2a2a" stroke-width="1" />
<line x1="265.60" y1="298.35" x2="267.10" y2="298.35" stroke="#2a2a2a" stroke-width="1" />
<line x1="265.60" y1="271.85" x2="267.10" y2="271.85" stroke="#2a2a2a" stroke-width="1" />
<line x1="265.60" y1="245.35" x2="267.10" y2="245.35" stroke="#2a2a2a" stroke-width="1" />
<line x1="265.60" y1="218.85" x2="267.10" y2="218.85" stroke="#2a2a2a" stroke-width="1" />
<text x="263.10" y="340.50" font-size="8.6" text-anchor="end" fill="#111" font-weight="bold" >0</text>
<text x="263.10" y="314.00" font-size="8.6" text-anchor="end" fill="#111" font-weight="bold" >8</text>
<text x="263.10" y="287.50" font-size="8.6" text-anchor="end" fill="#111" font-weight="bold" >16</text>
<text x="263.10" y="261.00" font-size="8.6" text-anchor="end" fill="#111" font-weight="bold" >24</text>
<text x="263.10" y="234.50" font-size="8.6" text-anchor="end" fill="#111" font-weight="bold" >32</text>
<text x="263.10" y="208.00" font-size="8.6" text-anchor="end" fill="#111" font-weight="bold" >40</text>
<text transform="translate(249.20,271.80) rotate(-90)" x="0" y="0" font-size="10.9" text-anchor="middle" fill="#111" font-weight="bold">Response (%)</text>
<rect x="277.80" y="247.01" width="20.8" height="91.09" fill="url(#gE)"/>
<text x="288.20" y="348.40" font-size="8.6" text-anchor="middle" fill="#111" font-weight="bold" >30%RH</text>
<rect x="319.20" y="261.91" width="20.8" height="76.19" fill="url(#gE)"/>
<text x="329.60" y="348.40" font-size="8.6" text-anchor="middle" fill="#111" font-weight="bold" >50%RH</text>
<rect x="360.00" y="274.83" width="20.8" height="63.27" fill="url(#gE)"/>
<text x="370.40" y="348.40" font-size="8.6" text-anchor="middle" fill="#111" font-weight="bold" >70%RH</text>
<rect x="401.60" y="284.77" width="20.8" height="53.33" fill="url(#gE)"/>
<text x="412.00" y="348.40" font-size="8.6" text-anchor="middle" fill="#111" font-weight="bold" >90%RH</text>
<path d="M287.90,247.21 L329.30,262.11 L370.10,275.03 L411.70,284.97" stroke="#111" fill="none" stroke-width="1.1" stroke-linejoin="round" />
<circle cx="287.90" cy="247.21" r="3.9" fill="url(#ball)"/>
<circle cx="329.30" cy="262.11" r="3.9" fill="url(#ball)"/>
<circle cx="370.10" cy="275.03" r="3.9" fill="url(#ball)"/>
<circle cx="411.70" cy="284.97" r="3.9" fill="url(#ball)"/>
<text x="460.40" y="193.40" font-size="18" text-anchor="start" fill="#111" font-weight="bold" >f</text>
<radialGradient id="fbg" gradientUnits="userSpaceOnUse" cx="522" cy="318" r="132" fx="522" fy="318"><stop offset="0" stop-color="#ffffff"/><stop offset="0.3" stop-color="#fff8f8"/><stop offset="0.55" stop-color="#fde4e5"/><stop offset="0.8" stop-color="#fac6c9"/><stop offset="1" stop-color="#f6aaae"/></radialGradient>
<path d="M562.30,199.20 L617.42,225.74 L631.03,285.39 L592.89,333.22 L531.71,333.22 L493.57,285.39 L507.18,225.74 Z" stroke="none" fill="url(#fbg)" stroke-width="1" stroke-linejoin="round" />
<path d="M562.30,265.20 L565.82,266.89 L566.69,270.70 L564.25,273.75 L560.35,273.75 L557.91,270.70 L558.78,266.89 Z" stroke="#c4a2a2" fill="none" stroke-width="0.5" stroke-linejoin="round" />
<path d="M562.30,246.40 L580.52,255.17 L585.02,274.88 L572.41,290.69 L552.19,290.69 L539.58,274.88 L544.08,255.17 Z" stroke="#c4a2a2" fill="none" stroke-width="0.5" stroke-linejoin="round" />
<path d="M562.30,227.60 L595.22,243.45 L603.34,279.07 L580.57,307.63 L544.03,307.63 L521.26,279.07 L529.38,243.45 Z" stroke="#c4a2a2" fill="none" stroke-width="0.5" stroke-linejoin="round" />
<path d="M562.30,208.80 L609.91,231.73 L621.67,283.25 L588.72,324.57 L535.88,324.57 L502.93,283.25 L514.69,231.73 Z" stroke="#c4a2a2" fill="none" stroke-width="0.5" stroke-linejoin="round" />
<line x1="562.30" y1="269.70" x2="562.30" y2="199.20" stroke="#a85050" stroke-width="0.85" />
<line x1="562.30" y1="269.70" x2="617.42" y2="225.74" stroke="#a85050" stroke-width="0.85" />
<line x1="562.30" y1="269.70" x2="631.03" y2="285.39" stroke="#a85050" stroke-width="0.85" />
<line x1="562.30" y1="269.70" x2="592.89" y2="333.22" stroke="#a85050" stroke-width="0.85" />
<line x1="562.30" y1="269.70" x2="531.71" y2="333.22" stroke="#a85050" stroke-width="0.85" />
<line x1="562.30" y1="269.70" x2="493.57" y2="285.39" stroke="#a85050" stroke-width="0.85" />
<line x1="562.30" y1="269.70" x2="507.18" y2="225.74" stroke="#a85050" stroke-width="0.85" />
<path d="M562.30,245.84 L566.41,266.43 L567.97,270.99 L586.77,320.50 L559.78,274.94 L556.81,270.95 L554.67,263.61 Z" stroke="#e02828" fill="rgba(240,70,70,0.42)" stroke-width="0.7" stroke-linejoin="round" />
<line x1="562.30" y1="245.84" x2="586.77" y2="320.50" stroke="rgba(215,40,40,0.55)" stroke-width="0.5" />
<line x1="566.41" y1="266.43" x2="586.77" y2="320.50" stroke="rgba(215,40,40,0.55)" stroke-width="0.5" />
<line x1="556.81" y1="270.95" x2="586.77" y2="320.50" stroke="rgba(215,40,40,0.55)" stroke-width="0.5" />
<line x1="554.67" y1="263.61" x2="586.77" y2="320.50" stroke="rgba(215,40,40,0.55)" stroke-width="0.5" />
<circle cx="562.30" cy="245.84" r="1.3" fill="#e81c1c"/>
<circle cx="566.41" cy="266.43" r="1.3" fill="#e81c1c"/>
<circle cx="567.97" cy="270.99" r="1.3" fill="#e81c1c"/>
<circle cx="586.77" cy="320.50" r="1.3" fill="#e81c1c"/>
<circle cx="559.78" cy="274.94" r="1.3" fill="#e81c1c"/>
<circle cx="556.81" cy="270.95" r="1.3" fill="#e81c1c"/>
<circle cx="554.67" cy="263.61" r="1.3" fill="#e81c1c"/>
<text x="568.00" y="209.10" font-size="8.6" text-anchor="end" fill="#333" font-weight="bold" >30</text>
<text x="568.00" y="227.90" font-size="8.6" text-anchor="end" fill="#333" font-weight="bold" >20</text>
<text x="568.00" y="246.10" font-size="8.6" text-anchor="end" fill="#333" font-weight="bold" >10</text>
<text x="568.00" y="264.30" font-size="8.6" text-anchor="end" fill="#333" font-weight="bold" >0</text>
<text x="571.00" y="191.60" font-size="8.9" text-anchor="middle" fill="#1a1a1a" font-weight="bold" >Nitrogen dioxide</text>
<text x="623.10" y="225.40" font-size="8.9" text-anchor="start" fill="#1a1a1a" font-weight="bold" >Hydrogen</text>
<text x="620.30" y="279.40" font-size="8.9" text-anchor="start" fill="#1a1a1a" font-weight="bold" >Carbon dioxide</text>
<text x="596.00" y="329.40" font-size="8.85" text-anchor="start" fill="#1a1a1a" font-weight="bold" >Ammonia</text>
<text x="528.00" y="329.40" font-size="8.85" text-anchor="end" fill="#1a1a1a" font-weight="bold" >Nitric oxide</text>
<text x="502.10" y="280.60" font-size="8.85" text-anchor="end" fill="#1a1a1a" font-weight="bold" >Acetone</text>
<text x="507.90" y="221.80" font-size="8.85" text-anchor="end" fill="#1a1a1a" font-weight="bold" >Ethanol</text>
<text x="567.70" y="349.70" font-size="11.35" text-anchor="middle" fill="#cc1a1a" font-weight="bold" >MNPE+Ni-N-C/Ti<tspan dy="2.70" font-size="7.70">3</tspan><tspan dy="-2.70">C</tspan><tspan dy="2.70" font-size="7.70">2</tspan><tspan dy="-2.70">T</tspan><tspan dy="2.70" font-size="7.70">x</tspan></text>
</svg></body></html>
